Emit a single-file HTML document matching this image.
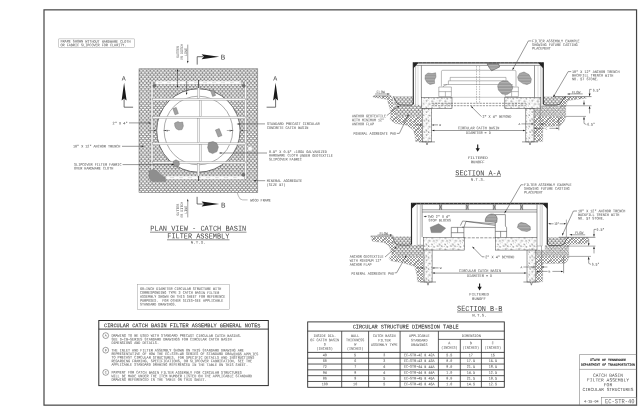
<!DOCTYPE html>
<html><head><meta charset="utf-8"><title>EC-STR-40 Catch Basin Filter Assembly for Circular Structures</title>
<style>
html,body{margin:0;padding:0;background:#fff;width:640px;height:414px;overflow:hidden}
svg{display:block;will-change:transform;transform:translateZ(0)}
text{white-space:pre;text-rendering:geometricPrecision}
</style></head><body>
<svg width="640" height="414" viewBox="0 0 640 414">
<rect x="0" y="0" width="640" height="414" fill="#fff"/>
<defs>
<pattern id="grav" width="18.0" height="16.4" patternUnits="userSpaceOnUse"><rect width="18.0" height="16.4" fill="#888888"/><ellipse cx="-2.70" cy="-3.08" rx="1.3" ry="0.86" fill="#fcfcfc"/><ellipse cx="-0.90" cy="-1.03" rx="1.3" ry="0.86" fill="#fcfcfc"/><ellipse cx="0.90" cy="-3.08" rx="1.3" ry="0.86" fill="#fcfcfc"/><ellipse cx="2.70" cy="-1.03" rx="1.3" ry="0.86" fill="#fcfcfc"/><ellipse cx="4.50" cy="-3.08" rx="1.3" ry="0.86" fill="#fcfcfc"/><ellipse cx="6.30" cy="-1.03" rx="1.3" ry="0.86" fill="#fcfcfc"/><ellipse cx="8.10" cy="-3.08" rx="1.3" ry="0.86" fill="#fcfcfc"/><ellipse cx="9.90" cy="-1.03" rx="1.3" ry="0.86" fill="#fcfcfc"/><ellipse cx="11.70" cy="-3.08" rx="1.3" ry="0.86" fill="#fcfcfc"/><ellipse cx="13.50" cy="-1.03" rx="1.3" ry="0.86" fill="#fcfcfc"/><ellipse cx="15.30" cy="-3.08" rx="1.3" ry="0.86" fill="#fcfcfc"/><ellipse cx="17.10" cy="-1.03" rx="1.3" ry="0.86" fill="#fcfcfc"/><ellipse cx="18.90" cy="-3.08" rx="1.3" ry="0.86" fill="#fcfcfc"/><ellipse cx="20.70" cy="-1.03" rx="1.3" ry="0.86" fill="#fcfcfc"/><ellipse cx="-2.70" cy="1.02" rx="1.3" ry="0.86" fill="#fcfcfc"/><ellipse cx="-0.90" cy="3.07" rx="1.3" ry="0.86" fill="#fcfcfc"/><ellipse cx="0.90" cy="1.02" rx="1.3" ry="0.86" fill="#fcfcfc"/><ellipse cx="2.70" cy="3.07" rx="1.3" ry="0.86" fill="#fcfcfc"/><ellipse cx="4.50" cy="1.02" rx="1.3" ry="0.86" fill="#fcfcfc"/><ellipse cx="6.30" cy="3.07" rx="1.3" ry="0.86" fill="#fcfcfc"/><ellipse cx="8.10" cy="1.02" rx="1.3" ry="0.86" fill="#fcfcfc"/><ellipse cx="9.90" cy="3.07" rx="1.3" ry="0.86" fill="#fcfcfc"/><ellipse cx="11.70" cy="1.02" rx="1.3" ry="0.86" fill="#fcfcfc"/><ellipse cx="13.50" cy="3.07" rx="1.3" ry="0.86" fill="#fcfcfc"/><ellipse cx="15.30" cy="1.02" rx="1.3" ry="0.86" fill="#fcfcfc"/><ellipse cx="17.10" cy="3.07" rx="1.3" ry="0.86" fill="#fcfcfc"/><ellipse cx="18.90" cy="1.02" rx="1.3" ry="0.86" fill="#fcfcfc"/><ellipse cx="20.70" cy="3.07" rx="1.3" ry="0.86" fill="#fcfcfc"/><ellipse cx="-2.70" cy="5.12" rx="1.3" ry="0.86" fill="#fcfcfc"/><ellipse cx="-0.90" cy="7.17" rx="1.3" ry="0.86" fill="#fcfcfc"/><ellipse cx="0.90" cy="5.12" rx="1.3" ry="0.86" fill="#fcfcfc"/><ellipse cx="2.70" cy="7.17" rx="1.3" ry="0.86" fill="#fcfcfc"/><ellipse cx="4.50" cy="5.12" rx="1.3" ry="0.86" fill="#fcfcfc"/><ellipse cx="6.30" cy="7.17" rx="1.3" ry="0.86" fill="#fcfcfc"/><ellipse cx="8.10" cy="5.12" rx="1.3" ry="0.86" fill="#fcfcfc"/><ellipse cx="9.90" cy="7.17" rx="1.3" ry="0.86" fill="#fcfcfc"/><ellipse cx="11.70" cy="5.12" rx="1.3" ry="0.86" fill="#fcfcfc"/><ellipse cx="13.50" cy="7.17" rx="1.3" ry="0.86" fill="#fcfcfc"/><ellipse cx="15.30" cy="5.12" rx="1.3" ry="0.86" fill="#fcfcfc"/><ellipse cx="17.10" cy="7.17" rx="1.3" ry="0.86" fill="#fcfcfc"/><ellipse cx="18.90" cy="5.12" rx="1.3" ry="0.86" fill="#fcfcfc"/><ellipse cx="20.70" cy="7.17" rx="1.3" ry="0.86" fill="#fcfcfc"/><ellipse cx="-2.70" cy="9.22" rx="1.3" ry="0.86" fill="#fcfcfc"/><ellipse cx="-0.90" cy="11.27" rx="1.3" ry="0.86" fill="#fcfcfc"/><ellipse cx="0.90" cy="9.22" rx="1.3" ry="0.86" fill="#fcfcfc"/><ellipse cx="2.70" cy="11.27" rx="1.3" ry="0.86" fill="#fcfcfc"/><ellipse cx="4.50" cy="9.22" rx="1.3" ry="0.86" fill="#fcfcfc"/><ellipse cx="6.30" cy="11.27" rx="1.3" ry="0.86" fill="#fcfcfc"/><ellipse cx="8.10" cy="9.22" rx="1.3" ry="0.86" fill="#fcfcfc"/><ellipse cx="9.90" cy="11.27" rx="1.3" ry="0.86" fill="#fcfcfc"/><ellipse cx="11.70" cy="9.22" rx="1.3" ry="0.86" fill="#fcfcfc"/><ellipse cx="13.50" cy="11.27" rx="1.3" ry="0.86" fill="#fcfcfc"/><ellipse cx="15.30" cy="9.22" rx="1.3" ry="0.86" fill="#fcfcfc"/><ellipse cx="17.10" cy="11.27" rx="1.3" ry="0.86" fill="#fcfcfc"/><ellipse cx="18.90" cy="9.22" rx="1.3" ry="0.86" fill="#fcfcfc"/><ellipse cx="20.70" cy="11.27" rx="1.3" ry="0.86" fill="#fcfcfc"/><ellipse cx="-2.70" cy="13.32" rx="1.3" ry="0.86" fill="#fcfcfc"/><ellipse cx="-0.90" cy="15.37" rx="1.3" ry="0.86" fill="#fcfcfc"/><ellipse cx="0.90" cy="13.32" rx="1.3" ry="0.86" fill="#fcfcfc"/><ellipse cx="2.70" cy="15.37" rx="1.3" ry="0.86" fill="#fcfcfc"/><ellipse cx="4.50" cy="13.32" rx="1.3" ry="0.86" fill="#fcfcfc"/><ellipse cx="6.30" cy="15.37" rx="1.3" ry="0.86" fill="#fcfcfc"/><ellipse cx="8.10" cy="13.32" rx="1.3" ry="0.86" fill="#fcfcfc"/><ellipse cx="9.90" cy="15.37" rx="1.3" ry="0.86" fill="#fcfcfc"/><ellipse cx="11.70" cy="13.32" rx="1.3" ry="0.86" fill="#fcfcfc"/><ellipse cx="13.50" cy="15.37" rx="1.3" ry="0.86" fill="#fcfcfc"/><ellipse cx="15.30" cy="13.32" rx="1.3" ry="0.86" fill="#fcfcfc"/><ellipse cx="17.10" cy="15.37" rx="1.3" ry="0.86" fill="#fcfcfc"/><ellipse cx="18.90" cy="13.32" rx="1.3" ry="0.86" fill="#fcfcfc"/><ellipse cx="20.70" cy="15.37" rx="1.3" ry="0.86" fill="#fcfcfc"/><ellipse cx="-2.70" cy="17.42" rx="1.3" ry="0.86" fill="#fcfcfc"/><ellipse cx="-0.90" cy="19.47" rx="1.3" ry="0.86" fill="#fcfcfc"/><ellipse cx="0.90" cy="17.42" rx="1.3" ry="0.86" fill="#fcfcfc"/><ellipse cx="2.70" cy="19.47" rx="1.3" ry="0.86" fill="#fcfcfc"/><ellipse cx="4.50" cy="17.42" rx="1.3" ry="0.86" fill="#fcfcfc"/><ellipse cx="6.30" cy="19.47" rx="1.3" ry="0.86" fill="#fcfcfc"/><ellipse cx="8.10" cy="17.42" rx="1.3" ry="0.86" fill="#fcfcfc"/><ellipse cx="9.90" cy="19.47" rx="1.3" ry="0.86" fill="#fcfcfc"/><ellipse cx="11.70" cy="17.42" rx="1.3" ry="0.86" fill="#fcfcfc"/><ellipse cx="13.50" cy="19.47" rx="1.3" ry="0.86" fill="#fcfcfc"/><ellipse cx="15.30" cy="17.42" rx="1.3" ry="0.86" fill="#fcfcfc"/><ellipse cx="17.10" cy="19.47" rx="1.3" ry="0.86" fill="#fcfcfc"/><ellipse cx="18.90" cy="17.42" rx="1.3" ry="0.86" fill="#fcfcfc"/><ellipse cx="20.70" cy="19.47" rx="1.3" ry="0.86" fill="#fcfcfc"/></pattern>
<pattern id="grav2" width="18.0" height="16.4" patternUnits="userSpaceOnUse"><rect width="18.0" height="16.4" fill="#8c8c8c"/><ellipse cx="-2.70" cy="-3.08" rx="1.3" ry="0.86" fill="#fcfcfc"/><ellipse cx="-0.90" cy="-1.03" rx="1.3" ry="0.86" fill="#fcfcfc"/><ellipse cx="0.90" cy="-3.08" rx="1.3" ry="0.86" fill="#fcfcfc"/><ellipse cx="2.70" cy="-1.03" rx="1.3" ry="0.86" fill="#fcfcfc"/><ellipse cx="4.50" cy="-3.08" rx="1.3" ry="0.86" fill="#fcfcfc"/><ellipse cx="6.30" cy="-1.03" rx="1.3" ry="0.86" fill="#fcfcfc"/><ellipse cx="8.10" cy="-3.08" rx="1.3" ry="0.86" fill="#fcfcfc"/><ellipse cx="9.90" cy="-1.03" rx="1.3" ry="0.86" fill="#fcfcfc"/><ellipse cx="11.70" cy="-3.08" rx="1.3" ry="0.86" fill="#fcfcfc"/><ellipse cx="13.50" cy="-1.03" rx="1.3" ry="0.86" fill="#fcfcfc"/><ellipse cx="15.30" cy="-3.08" rx="1.3" ry="0.86" fill="#fcfcfc"/><ellipse cx="17.10" cy="-1.03" rx="1.3" ry="0.86" fill="#fcfcfc"/><ellipse cx="18.90" cy="-3.08" rx="1.3" ry="0.86" fill="#fcfcfc"/><ellipse cx="20.70" cy="-1.03" rx="1.3" ry="0.86" fill="#fcfcfc"/><ellipse cx="-2.70" cy="1.02" rx="1.3" ry="0.86" fill="#fcfcfc"/><ellipse cx="-0.90" cy="3.07" rx="1.3" ry="0.86" fill="#fcfcfc"/><ellipse cx="0.90" cy="1.02" rx="1.3" ry="0.86" fill="#fcfcfc"/><ellipse cx="2.70" cy="3.07" rx="1.3" ry="0.86" fill="#fcfcfc"/><ellipse cx="4.50" cy="1.02" rx="1.3" ry="0.86" fill="#fcfcfc"/><ellipse cx="6.30" cy="3.07" rx="1.3" ry="0.86" fill="#fcfcfc"/><ellipse cx="8.10" cy="1.02" rx="1.3" ry="0.86" fill="#fcfcfc"/><ellipse cx="9.90" cy="3.07" rx="1.3" ry="0.86" fill="#fcfcfc"/><ellipse cx="11.70" cy="1.02" rx="1.3" ry="0.86" fill="#fcfcfc"/><ellipse cx="13.50" cy="3.07" rx="1.3" ry="0.86" fill="#fcfcfc"/><ellipse cx="15.30" cy="1.02" rx="1.3" ry="0.86" fill="#fcfcfc"/><ellipse cx="17.10" cy="3.07" rx="1.3" ry="0.86" fill="#fcfcfc"/><ellipse cx="18.90" cy="1.02" rx="1.3" ry="0.86" fill="#fcfcfc"/><ellipse cx="20.70" cy="3.07" rx="1.3" ry="0.86" fill="#fcfcfc"/><ellipse cx="-2.70" cy="5.12" rx="1.3" ry="0.86" fill="#fcfcfc"/><ellipse cx="-0.90" cy="7.17" rx="1.3" ry="0.86" fill="#fcfcfc"/><ellipse cx="0.90" cy="5.12" rx="1.3" ry="0.86" fill="#fcfcfc"/><ellipse cx="2.70" cy="7.17" rx="1.3" ry="0.86" fill="#fcfcfc"/><ellipse cx="4.50" cy="5.12" rx="1.3" ry="0.86" fill="#fcfcfc"/><ellipse cx="6.30" cy="7.17" rx="1.3" ry="0.86" fill="#fcfcfc"/><ellipse cx="8.10" cy="5.12" rx="1.3" ry="0.86" fill="#fcfcfc"/><ellipse cx="9.90" cy="7.17" rx="1.3" ry="0.86" fill="#fcfcfc"/><ellipse cx="11.70" cy="5.12" rx="1.3" ry="0.86" fill="#fcfcfc"/><ellipse cx="13.50" cy="7.17" rx="1.3" ry="0.86" fill="#fcfcfc"/><ellipse cx="15.30" cy="5.12" rx="1.3" ry="0.86" fill="#fcfcfc"/><ellipse cx="17.10" cy="7.17" rx="1.3" ry="0.86" fill="#fcfcfc"/><ellipse cx="18.90" cy="5.12" rx="1.3" ry="0.86" fill="#fcfcfc"/><ellipse cx="20.70" cy="7.17" rx="1.3" ry="0.86" fill="#fcfcfc"/><ellipse cx="-2.70" cy="9.22" rx="1.3" ry="0.86" fill="#fcfcfc"/><ellipse cx="-0.90" cy="11.27" rx="1.3" ry="0.86" fill="#fcfcfc"/><ellipse cx="0.90" cy="9.22" rx="1.3" ry="0.86" fill="#fcfcfc"/><ellipse cx="2.70" cy="11.27" rx="1.3" ry="0.86" fill="#fcfcfc"/><ellipse cx="4.50" cy="9.22" rx="1.3" ry="0.86" fill="#fcfcfc"/><ellipse cx="6.30" cy="11.27" rx="1.3" ry="0.86" fill="#fcfcfc"/><ellipse cx="8.10" cy="9.22" rx="1.3" ry="0.86" fill="#fcfcfc"/><ellipse cx="9.90" cy="11.27" rx="1.3" ry="0.86" fill="#fcfcfc"/><ellipse cx="11.70" cy="9.22" rx="1.3" ry="0.86" fill="#fcfcfc"/><ellipse cx="13.50" cy="11.27" rx="1.3" ry="0.86" fill="#fcfcfc"/><ellipse cx="15.30" cy="9.22" rx="1.3" ry="0.86" fill="#fcfcfc"/><ellipse cx="17.10" cy="11.27" rx="1.3" ry="0.86" fill="#fcfcfc"/><ellipse cx="18.90" cy="9.22" rx="1.3" ry="0.86" fill="#fcfcfc"/><ellipse cx="20.70" cy="11.27" rx="1.3" ry="0.86" fill="#fcfcfc"/><ellipse cx="-2.70" cy="13.32" rx="1.3" ry="0.86" fill="#fcfcfc"/><ellipse cx="-0.90" cy="15.37" rx="1.3" ry="0.86" fill="#fcfcfc"/><ellipse cx="0.90" cy="13.32" rx="1.3" ry="0.86" fill="#fcfcfc"/><ellipse cx="2.70" cy="15.37" rx="1.3" ry="0.86" fill="#fcfcfc"/><ellipse cx="4.50" cy="13.32" rx="1.3" ry="0.86" fill="#fcfcfc"/><ellipse cx="6.30" cy="15.37" rx="1.3" ry="0.86" fill="#fcfcfc"/><ellipse cx="8.10" cy="13.32" rx="1.3" ry="0.86" fill="#fcfcfc"/><ellipse cx="9.90" cy="15.37" rx="1.3" ry="0.86" fill="#fcfcfc"/><ellipse cx="11.70" cy="13.32" rx="1.3" ry="0.86" fill="#fcfcfc"/><ellipse cx="13.50" cy="15.37" rx="1.3" ry="0.86" fill="#fcfcfc"/><ellipse cx="15.30" cy="13.32" rx="1.3" ry="0.86" fill="#fcfcfc"/><ellipse cx="17.10" cy="15.37" rx="1.3" ry="0.86" fill="#fcfcfc"/><ellipse cx="18.90" cy="13.32" rx="1.3" ry="0.86" fill="#fcfcfc"/><ellipse cx="20.70" cy="15.37" rx="1.3" ry="0.86" fill="#fcfcfc"/><ellipse cx="-2.70" cy="17.42" rx="1.3" ry="0.86" fill="#fcfcfc"/><ellipse cx="-0.90" cy="19.47" rx="1.3" ry="0.86" fill="#fcfcfc"/><ellipse cx="0.90" cy="17.42" rx="1.3" ry="0.86" fill="#fcfcfc"/><ellipse cx="2.70" cy="19.47" rx="1.3" ry="0.86" fill="#fcfcfc"/><ellipse cx="4.50" cy="17.42" rx="1.3" ry="0.86" fill="#fcfcfc"/><ellipse cx="6.30" cy="19.47" rx="1.3" ry="0.86" fill="#fcfcfc"/><ellipse cx="8.10" cy="17.42" rx="1.3" ry="0.86" fill="#fcfcfc"/><ellipse cx="9.90" cy="19.47" rx="1.3" ry="0.86" fill="#fcfcfc"/><ellipse cx="11.70" cy="17.42" rx="1.3" ry="0.86" fill="#fcfcfc"/><ellipse cx="13.50" cy="19.47" rx="1.3" ry="0.86" fill="#fcfcfc"/><ellipse cx="15.30" cy="17.42" rx="1.3" ry="0.86" fill="#fcfcfc"/><ellipse cx="17.10" cy="19.47" rx="1.3" ry="0.86" fill="#fcfcfc"/><ellipse cx="18.90" cy="17.42" rx="1.3" ry="0.86" fill="#fcfcfc"/><ellipse cx="20.70" cy="19.47" rx="1.3" ry="0.86" fill="#fcfcfc"/></pattern>
<pattern id="soil" width="11.0" height="11.0" patternUnits="userSpaceOnUse"><rect width="11.0" height="11.0" fill="#fff"/><path d="M-11.0,0 L0.0,11.0 M-11.0,11.0 L0.0,0 M-8.25,0 L2.75,11.0 M-8.25,11.0 L2.75,0 M-5.5,0 L5.5,11.0 M-5.5,11.0 L5.5,0 M-2.75,0 L8.25,11.0 M-2.75,11.0 L8.25,0 M0.0,0 L11.0,11.0 M0.0,11.0 L11.0,0 M2.75,0 L13.75,11.0 M2.75,11.0 L13.75,0 M5.5,0 L16.5,11.0 M5.5,11.0 L16.5,0 M8.25,0 L19.25,11.0 M8.25,11.0 L19.25,0 M11.0,0 L22.0,11.0 M11.0,11.0 L22.0,0 M13.75,0 L24.75,11.0 M13.75,11.0 L24.75,0 M16.5,0 L27.5,11.0 M16.5,11.0 L27.5,0 M19.25,0 L30.25,11.0 M19.25,11.0 L30.25,0 M22.0,0 L33.0,11.0 M22.0,11.0 L33.0,0" stroke="#505050" stroke-width="0.5" shape-rendering="crispEdges"/></pattern>
<pattern id="conc" width="13.2" height="11.4" patternUnits="userSpaceOnUse"><rect width="13.2" height="11.4" fill="#fff"/><path d="M0.72,0.61 l1.1,0.35 l-0.65,0.9 z" fill="#e4e4e4" stroke="#505050" stroke-width="0.38"/><circle cx="2.12" cy="1.91" r="0.22" fill="#777"/><circle cx="3.79" cy="0.50" r="0.36" fill="#505050"/><circle cx="5.19" cy="1.80" r="0.22" fill="#777"/><path d="M6.28,0.91 l1.1,0.35 l-0.65,0.9 z" fill="#e4e4e4" stroke="#505050" stroke-width="0.38"/><circle cx="7.68" cy="2.21" r="0.22" fill="#777"/><circle cx="8.30" cy="1.11" r="0.36" fill="#505050"/><circle cx="9.70" cy="2.41" r="0.22" fill="#777"/><path d="M10.91,1.01 l1.1,0.35 l-0.65,0.9 z" fill="#e4e4e4" stroke="#505050" stroke-width="0.38"/><circle cx="12.31" cy="2.31" r="0.22" fill="#777"/><circle cx="0.39" cy="3.38" r="0.36" fill="#505050"/><circle cx="1.79" cy="4.68" r="0.22" fill="#777"/><path d="M3.49,4.41 l1.1,0.35 l-0.65,0.9 z" fill="#e4e4e4" stroke="#505050" stroke-width="0.38"/><circle cx="4.89" cy="5.71" r="0.22" fill="#777"/><circle cx="5.74" cy="3.56" r="0.36" fill="#505050"/><circle cx="7.14" cy="4.86" r="0.22" fill="#777"/><path d="M9.04,4.58 l1.1,0.35 l-0.65,0.9 z" fill="#e4e4e4" stroke="#505050" stroke-width="0.38"/><circle cx="10.44" cy="5.88" r="0.22" fill="#777"/><circle cx="11.61" cy="3.81" r="0.36" fill="#505050"/><circle cx="13.01" cy="5.11" r="0.22" fill="#777"/><path d="M1.57,6.17 l1.1,0.35 l-0.65,0.9 z" fill="#e4e4e4" stroke="#505050" stroke-width="0.38"/><circle cx="2.97" cy="7.47" r="0.22" fill="#777"/><circle cx="4.06" cy="6.51" r="0.36" fill="#505050"/><circle cx="5.46" cy="7.81" r="0.22" fill="#777"/><path d="M5.77,6.26 l1.1,0.35 l-0.65,0.9 z" fill="#e4e4e4" stroke="#505050" stroke-width="0.38"/><circle cx="7.17" cy="7.56" r="0.22" fill="#777"/><circle cx="8.62" cy="7.24" r="0.36" fill="#505050"/><circle cx="10.02" cy="8.54" r="0.22" fill="#777"/><path d="M11.09,6.91 l1.1,0.35 l-0.65,0.9 z" fill="#e4e4e4" stroke="#505050" stroke-width="0.38"/><circle cx="12.49" cy="8.21" r="0.22" fill="#777"/><circle cx="1.13" cy="9.47" r="0.36" fill="#505050"/><circle cx="2.53" cy="10.77" r="0.22" fill="#777"/><path d="M3.65,9.04 l1.1,0.35 l-0.65,0.9 z" fill="#e4e4e4" stroke="#505050" stroke-width="0.38"/><circle cx="5.05" cy="10.34" r="0.22" fill="#777"/><circle cx="5.66" cy="9.24" r="0.36" fill="#505050"/><circle cx="7.06" cy="10.54" r="0.22" fill="#777"/><path d="M9.10,9.55 l1.1,0.35 l-0.65,0.9 z" fill="#e4e4e4" stroke="#505050" stroke-width="0.38"/><circle cx="10.50" cy="10.85" r="0.22" fill="#777"/><circle cx="11.27" cy="9.77" r="0.36" fill="#505050"/><circle cx="12.67" cy="11.07" r="0.22" fill="#777"/></pattern>
<pattern id="blob" width="8.7" height="8.7" patternUnits="userSpaceOnUse"><rect width="8.7" height="8.7" fill="#d6d6d6"/><path d="M0,0.70 H8.7 M0,2.15 H8.7 M0,3.60 H8.7 M0,5.05 H8.7 M0,6.50 H8.7 M0,7.95 H8.7" stroke="#4a4a4a" stroke-width="0.55"/></pattern>
</defs>
<rect x="44" y="9.85" width="592.55" height="395.3" fill="none" stroke="#444" stroke-width="1.2" />
<rect x="58.8" y="38.9" width="75.4" height="8.8" fill="none" stroke="#888" stroke-width="0.4" />
<text x="60.5" y="42.6" transform="rotate(0.06 60.5 42.6)" style="font-family:'Liberation Mono',sans-serif" font-size="3.9" fill="#5e5e5e" text-anchor="start" font-weight="normal" textLength="70" lengthAdjust="spacingAndGlyphs"  stroke="#5e5e5e" stroke-width="0.05">FRAME SHOWN WITHOUT HARDWARE CLOTH</text>
<text x="60.5" y="46.2" transform="rotate(0.06 60.5 46.2)" style="font-family:'Liberation Mono',sans-serif" font-size="3.9" fill="#5e5e5e" text-anchor="start" font-weight="normal" textLength="66" lengthAdjust="spacingAndGlyphs"  stroke="#5e5e5e" stroke-width="0.05">OR FABRIC SLIPCOVER FOR CLARITY.</text>
<text x="198.3" y="230.8" transform="rotate(0.06 198.3 230.8)" style="font-family:'Liberation Mono',sans-serif" font-size="7.6" fill="#444" text-anchor="middle" font-weight="normal" textLength="96" lengthAdjust="spacingAndGlyphs" >PLAN VIEW - CATCH BASIN</text>
<line x1="150" y1="232.2" x2="246.5" y2="232.2" stroke="#444" stroke-width="0.6" />
<text x="198.3" y="238.4" transform="rotate(0.06 198.3 238.4)" style="font-family:'Liberation Mono',sans-serif" font-size="7.6" fill="#444" text-anchor="middle" font-weight="normal" textLength="62" lengthAdjust="spacingAndGlyphs" >FILTER ASSEMBLY</text>
<line x1="167" y1="239.8" x2="229.5" y2="239.8" stroke="#444" stroke-width="0.6" />
<text x="198.3" y="243.4" transform="rotate(0.06 198.3 243.4)" style="font-family:'Liberation Mono',sans-serif" font-size="3.4" fill="#5e5e5e" text-anchor="middle" font-weight="normal" textLength="15" lengthAdjust="spacingAndGlyphs"  stroke="#5e5e5e" stroke-width="0.05">N.T.S.</text>
<rect x="137.2" y="284.5" width="92.1" height="24.8" fill="none" stroke="#888" stroke-width="0.4" />
<text x="140" y="289.9" transform="rotate(0.06 140 289.9)" style="font-family:'Liberation Mono',sans-serif" font-size="3.9" fill="#5e5e5e" text-anchor="start" font-weight="normal" textLength="81.19999999999999" lengthAdjust="spacingAndGlyphs"  stroke="#5e5e5e" stroke-width="0.05">60-INCH DIAMETER CIRCULAR STRUCTURE WITH</text>
<text x="140" y="293.82" transform="rotate(0.06 140 293.82)" style="font-family:'Liberation Mono',sans-serif" font-size="3.9" fill="#5e5e5e" text-anchor="start" font-weight="normal" textLength="79.16999999999999" lengthAdjust="spacingAndGlyphs"  stroke="#5e5e5e" stroke-width="0.05">CORRESPONDING TYPE 3 CATCH BASIN FILTER</text>
<text x="140" y="297.73999999999995" transform="rotate(0.06 140 297.73999999999995)" style="font-family:'Liberation Mono',sans-serif" font-size="3.9" fill="#5e5e5e" text-anchor="start" font-weight="normal" textLength="85.25999999999999" lengthAdjust="spacingAndGlyphs"  stroke="#5e5e5e" stroke-width="0.05">ASSEMBLY SHOWN ON THIS SHEET FOR REFERENCE</text>
<text x="140" y="301.65999999999997" transform="rotate(0.06 140 301.65999999999997)" style="font-family:'Liberation Mono',sans-serif" font-size="3.9" fill="#5e5e5e" text-anchor="start" font-weight="normal" textLength="83.22999999999999" lengthAdjust="spacingAndGlyphs"  stroke="#5e5e5e" stroke-width="0.05">PURPOSES.  FOR OTHER SIZES-SEE APPLICABLE</text>
<text x="140" y="305.58" transform="rotate(0.06 140 305.58)" style="font-family:'Liberation Mono',sans-serif" font-size="3.9" fill="#5e5e5e" text-anchor="start" font-weight="normal" textLength="36.54" lengthAdjust="spacingAndGlyphs"  stroke="#5e5e5e" stroke-width="0.05">STANDARD DRAWINGS.</text>
<rect x="98.8" y="320.5" width="169.5" height="65.1" fill="none" stroke="#2c2c2c" stroke-width="1.0" />
<line x1="98.8" y1="329.1" x2="268.3" y2="329.1" stroke="#2c2c2c" stroke-width="0.9" />
<text x="182.3" y="327.3" transform="rotate(0.06 182.3 327.3)" style="font-family:'Liberation Mono',sans-serif" font-size="5.6" fill="#3a3a3a" text-anchor="middle" font-weight="normal" textLength="156.4" lengthAdjust="spacingAndGlyphs"  stroke="#3a3a3a" stroke-width="0.12">CIRCULAR CATCH BASIN FILTER ASSEMBLY GENERAL NOTES</text>
<circle cx="105.7" cy="335.6" r="2.9" fill="none" stroke="#444" stroke-width="0.5"/>
<text x="105.7" y="336.6" transform="rotate(0.06 105.7 336.6)" style="font-family:'Liberation Mono',sans-serif" font-size="3.2" fill="#5e5e5e" text-anchor="middle" font-weight="normal"  stroke="#5e5e5e" stroke-width="0.05">A</text>
<text x="111.4" y="336.8" transform="rotate(0.06 111.4 336.8)" style="font-family:'Liberation Mono',sans-serif" font-size="3.9" fill="#5e5e5e" text-anchor="start" font-weight="normal" textLength="130.41" lengthAdjust="spacingAndGlyphs"  stroke="#5e5e5e" stroke-width="0.05">DRAWING TO BE USED WITH STANDARD PRECAST CIRCULAR CATCH BASINS.</text>
<text x="111.4" y="340.40000000000003" transform="rotate(0.06 111.4 340.40000000000003)" style="font-family:'Liberation Mono',sans-serif" font-size="3.9" fill="#5e5e5e" text-anchor="start" font-weight="normal" textLength="120.05999999999999" lengthAdjust="spacingAndGlyphs"  stroke="#5e5e5e" stroke-width="0.05">SEE D-CB-SERIES STANDARD DRAWINGS FOR CIRCULAR CATCH BASIN</text>
<text x="111.4" y="344.0" transform="rotate(0.06 111.4 344.0)" style="font-family:'Liberation Mono',sans-serif" font-size="3.9" fill="#5e5e5e" text-anchor="start" font-weight="normal" textLength="47.61" lengthAdjust="spacingAndGlyphs"  stroke="#5e5e5e" stroke-width="0.05">DIMENSIONS AND DETAILS.</text>
<circle cx="105.7" cy="350.2" r="2.9" fill="none" stroke="#444" stroke-width="0.5"/>
<text x="105.7" y="351.2" transform="rotate(0.06 105.7 351.2)" style="font-family:'Liberation Mono',sans-serif" font-size="3.2" fill="#5e5e5e" text-anchor="middle" font-weight="normal"  stroke="#5e5e5e" stroke-width="0.05">B</text>
<text x="111.4" y="351.4" transform="rotate(0.06 111.4 351.4)" style="font-family:'Liberation Mono',sans-serif" font-size="3.9" fill="#5e5e5e" text-anchor="start" font-weight="normal" textLength="132.48" lengthAdjust="spacingAndGlyphs"  stroke="#5e5e5e" stroke-width="0.05">THE INLET AND FILTER ASSEMBLY SHOWN ON THIS STANDARD DRAWING ARE</text>
<text x="111.4" y="355.0" transform="rotate(0.06 111.4 355.0)" style="font-family:'Liberation Mono',sans-serif" font-size="3.9" fill="#5e5e5e" text-anchor="start" font-weight="normal" textLength="146.97" lengthAdjust="spacingAndGlyphs"  stroke="#5e5e5e" stroke-width="0.05">REPRESENTATIVE OF HOW THE EC-STR-40 SERIES OF STANDARD DRAWINGS APPLIES</text>
<text x="111.4" y="358.59999999999997" transform="rotate(0.06 111.4 358.59999999999997)" style="font-family:'Liberation Mono',sans-serif" font-size="3.9" fill="#5e5e5e" text-anchor="start" font-weight="normal" textLength="142.82999999999998" lengthAdjust="spacingAndGlyphs"  stroke="#5e5e5e" stroke-width="0.05">TO PRECAST CIRCULAR STRUCTURES. FOR SPECIFIC DETAILS AND INSTRUCTIONS</text>
<text x="111.4" y="362.2" transform="rotate(0.06 111.4 362.2)" style="font-family:'Liberation Mono',sans-serif" font-size="3.9" fill="#5e5e5e" text-anchor="start" font-weight="normal" textLength="140.76" lengthAdjust="spacingAndGlyphs"  stroke="#5e5e5e" stroke-width="0.05">REGARDING FRAMING, SPECIFICATIONS, OR SLIPCOVER FABRICATION, SEE THE</text>
<text x="111.4" y="365.79999999999995" transform="rotate(0.06 111.4 365.79999999999995)" style="font-family:'Liberation Mono',sans-serif" font-size="3.9" fill="#5e5e5e" text-anchor="start" font-weight="normal" textLength="136.61999999999998" lengthAdjust="spacingAndGlyphs"  stroke="#5e5e5e" stroke-width="0.05">APPLICABLE STANDARD DRAWING REFERENCED IN THE TABLE ON THIS SHEET.</text>
<circle cx="105.7" cy="372.40000000000003" r="2.9" fill="none" stroke="#444" stroke-width="0.5"/>
<text x="105.7" y="373.40000000000003" transform="rotate(0.06 105.7 373.40000000000003)" style="font-family:'Liberation Mono',sans-serif" font-size="3.2" fill="#5e5e5e" text-anchor="middle" font-weight="normal"  stroke="#5e5e5e" stroke-width="0.05">C</text>
<text x="111.4" y="373.6" transform="rotate(0.06 111.4 373.6)" style="font-family:'Liberation Mono',sans-serif" font-size="3.9" fill="#5e5e5e" text-anchor="start" font-weight="normal" textLength="130.41" lengthAdjust="spacingAndGlyphs"  stroke="#5e5e5e" stroke-width="0.05">PAYMENT FOR CATCH BASIN FILTER ASSEMBLY FOR CIRCULAR STRUCTURES</text>
<text x="111.4" y="377.20000000000005" transform="rotate(0.06 111.4 377.20000000000005)" style="font-family:'Liberation Mono',sans-serif" font-size="3.9" fill="#5e5e5e" text-anchor="start" font-weight="normal" textLength="140.76" lengthAdjust="spacingAndGlyphs"  stroke="#5e5e5e" stroke-width="0.05">WILL BE MADE UNDER THE ITEM NUMBER LISTED ON THE APPLICABLE STANDARD</text>
<text x="111.4" y="380.8" transform="rotate(0.06 111.4 380.8)" style="font-family:'Liberation Mono',sans-serif" font-size="3.9" fill="#5e5e5e" text-anchor="start" font-weight="normal" textLength="95.22" lengthAdjust="spacingAndGlyphs"  stroke="#5e5e5e" stroke-width="0.05">DRAWING REFERENCED IN THE TABLE ON THIS SHEET.</text>
<rect x="307.7" y="321.9" width="196.6" height="65.4" fill="none" stroke="#2c2c2c" stroke-width="0.9" />
<line x1="307.7" y1="331.1" x2="504.3" y2="331.1" stroke="#2c2c2c" stroke-width="0.8" />
<text x="405.7" y="328.5" transform="rotate(0.06 405.7 328.5)" style="font-family:'Liberation Mono',sans-serif" font-size="5.6" fill="#3a3a3a" text-anchor="middle" font-weight="normal" textLength="106" lengthAdjust="spacingAndGlyphs"  stroke="#3a3a3a" stroke-width="0.12">CIRCULAR STRUCTURE DIMENSION TABLE</text>
<line x1="341.7" y1="331.1" x2="341.7" y2="387.3" stroke="#2c2c2c" stroke-width="0.75" />
<line x1="368.6" y1="331.1" x2="368.6" y2="387.3" stroke="#2c2c2c" stroke-width="0.75" />
<line x1="400.1" y1="331.1" x2="400.1" y2="387.3" stroke="#2c2c2c" stroke-width="0.75" />
<line x1="438.4" y1="331.1" x2="438.4" y2="387.3" stroke="#2c2c2c" stroke-width="0.75" />
<line x1="460.3" y1="339.4" x2="460.3" y2="387.3" stroke="#2c2c2c" stroke-width="0.75" />
<line x1="481.4" y1="339.4" x2="481.4" y2="387.3" stroke="#2c2c2c" stroke-width="0.75" />
<line x1="438.4" y1="339.4" x2="504.3" y2="339.4" stroke="#2c2c2c" stroke-width="0.7" />
<line x1="307.7" y1="352.4" x2="504.3" y2="352.4" stroke="#2c2c2c" stroke-width="0.85" />
<line x1="307.7" y1="358.21666666666664" x2="504.3" y2="358.21666666666664" stroke="#2c2c2c" stroke-width="0.8" />
<line x1="307.7" y1="364.0333333333333" x2="504.3" y2="364.0333333333333" stroke="#2c2c2c" stroke-width="0.8" />
<line x1="307.7" y1="369.85" x2="504.3" y2="369.85" stroke="#2c2c2c" stroke-width="0.8" />
<line x1="307.7" y1="375.6666666666667" x2="504.3" y2="375.6666666666667" stroke="#2c2c2c" stroke-width="0.8" />
<line x1="307.7" y1="381.48333333333335" x2="504.3" y2="381.48333333333335" stroke="#2c2c2c" stroke-width="0.8" />
<text x="324.7" y="337.1" transform="rotate(0.06 324.7 337.1)" style="font-family:'Liberation Mono',sans-serif" font-size="3.9" fill="#5e5e5e" text-anchor="middle" font-weight="normal" textLength="22.549999999999997" lengthAdjust="spacingAndGlyphs"  stroke="#5e5e5e" stroke-width="0.05">INSIDE DIA.</text>
<text x="324.7" y="341.35" transform="rotate(0.06 324.7 341.35)" style="font-family:'Liberation Mono',sans-serif" font-size="3.9" fill="#5e5e5e" text-anchor="middle" font-weight="normal" textLength="28.699999999999996" lengthAdjust="spacingAndGlyphs"  stroke="#5e5e5e" stroke-width="0.05">OF CATCH BASIN</text>
<text x="324.7" y="345.6" transform="rotate(0.06 324.7 345.6)" style="font-family:'Liberation Mono',sans-serif" font-size="3.9" fill="#5e5e5e" text-anchor="middle" font-weight="normal" textLength="2.05" lengthAdjust="spacingAndGlyphs"  stroke="#5e5e5e" stroke-width="0.05">D</text>
<text x="324.7" y="349.85" transform="rotate(0.06 324.7 349.85)" style="font-family:'Liberation Mono',sans-serif" font-size="3.9" fill="#5e5e5e" text-anchor="middle" font-weight="normal" textLength="16.4" lengthAdjust="spacingAndGlyphs"  stroke="#5e5e5e" stroke-width="0.05">(INCHES)</text>
<text x="355.15" y="337.1" transform="rotate(0.06 355.15 337.1)" style="font-family:'Liberation Mono',sans-serif" font-size="3.9" fill="#5e5e5e" text-anchor="middle" font-weight="normal" textLength="8.2" lengthAdjust="spacingAndGlyphs"  stroke="#5e5e5e" stroke-width="0.05">WALL</text>
<text x="355.15" y="341.35" transform="rotate(0.06 355.15 341.35)" style="font-family:'Liberation Mono',sans-serif" font-size="3.9" fill="#5e5e5e" text-anchor="middle" font-weight="normal" textLength="18.45" lengthAdjust="spacingAndGlyphs"  stroke="#5e5e5e" stroke-width="0.05">THICKNESS</text>
<text x="355.15" y="345.6" transform="rotate(0.06 355.15 345.6)" style="font-family:'Liberation Mono',sans-serif" font-size="3.9" fill="#5e5e5e" text-anchor="middle" font-weight="normal" textLength="2.05" lengthAdjust="spacingAndGlyphs"  stroke="#5e5e5e" stroke-width="0.05">W</text>
<text x="355.15" y="349.85" transform="rotate(0.06 355.15 349.85)" style="font-family:'Liberation Mono',sans-serif" font-size="3.9" fill="#5e5e5e" text-anchor="middle" font-weight="normal" textLength="16.4" lengthAdjust="spacingAndGlyphs"  stroke="#5e5e5e" stroke-width="0.05">(INCHES)</text>
<text x="384.35" y="337.0" transform="rotate(0.06 384.35 337.0)" style="font-family:'Liberation Mono',sans-serif" font-size="3.9" fill="#5e5e5e" text-anchor="middle" font-weight="normal" textLength="22.549999999999997" lengthAdjust="spacingAndGlyphs"  stroke="#5e5e5e" stroke-width="0.05">CATCH BASIN</text>
<text x="384.35" y="341.5" transform="rotate(0.06 384.35 341.5)" style="font-family:'Liberation Mono',sans-serif" font-size="3.9" fill="#5e5e5e" text-anchor="middle" font-weight="normal" textLength="12.299999999999999" lengthAdjust="spacingAndGlyphs"  stroke="#5e5e5e" stroke-width="0.05">FILTER</text>
<text x="384.35" y="346.0" transform="rotate(0.06 384.35 346.0)" style="font-family:'Liberation Mono',sans-serif" font-size="3.9" fill="#5e5e5e" text-anchor="middle" font-weight="normal" textLength="26.65" lengthAdjust="spacingAndGlyphs"  stroke="#5e5e5e" stroke-width="0.05">ASSEMBLY TYPE</text>
<text x="419.25" y="337.0" transform="rotate(0.06 419.25 337.0)" style="font-family:'Liberation Mono',sans-serif" font-size="3.9" fill="#5e5e5e" text-anchor="middle" font-weight="normal" textLength="20.5" lengthAdjust="spacingAndGlyphs"  stroke="#5e5e5e" stroke-width="0.05">APPLICABLE</text>
<text x="419.25" y="341.5" transform="rotate(0.06 419.25 341.5)" style="font-family:'Liberation Mono',sans-serif" font-size="3.9" fill="#5e5e5e" text-anchor="middle" font-weight="normal" textLength="16.4" lengthAdjust="spacingAndGlyphs"  stroke="#5e5e5e" stroke-width="0.05">STANDARD</text>
<text x="419.25" y="346.0" transform="rotate(0.06 419.25 346.0)" style="font-family:'Liberation Mono',sans-serif" font-size="3.9" fill="#5e5e5e" text-anchor="middle" font-weight="normal" textLength="16.4" lengthAdjust="spacingAndGlyphs"  stroke="#5e5e5e" stroke-width="0.05">DRAWINGS</text>
<text x="471.35" y="337" transform="rotate(0.06 471.35 337)" style="font-family:'Liberation Mono',sans-serif" font-size="3.9" fill="#5e5e5e" text-anchor="middle" font-weight="normal" textLength="19" lengthAdjust="spacingAndGlyphs"  stroke="#5e5e5e" stroke-width="0.05">DIMENSION</text>
<text x="449.35" y="344.3" transform="rotate(0.06 449.35 344.3)" style="font-family:'Liberation Mono',sans-serif" font-size="3.9" fill="#5e5e5e" text-anchor="middle" font-weight="normal" textLength="2.05" lengthAdjust="spacingAndGlyphs"  stroke="#5e5e5e" stroke-width="0.05">A</text>
<text x="449.35" y="348.7" transform="rotate(0.06 449.35 348.7)" style="font-family:'Liberation Mono',sans-serif" font-size="3.9" fill="#5e5e5e" text-anchor="middle" font-weight="normal" textLength="16.4" lengthAdjust="spacingAndGlyphs"  stroke="#5e5e5e" stroke-width="0.05">(INCHES)</text>
<text x="470.85" y="344.3" transform="rotate(0.06 470.85 344.3)" style="font-family:'Liberation Mono',sans-serif" font-size="3.9" fill="#5e5e5e" text-anchor="middle" font-weight="normal" textLength="2.05" lengthAdjust="spacingAndGlyphs"  stroke="#5e5e5e" stroke-width="0.05">B</text>
<text x="470.85" y="348.7" transform="rotate(0.06 470.85 348.7)" style="font-family:'Liberation Mono',sans-serif" font-size="3.9" fill="#5e5e5e" text-anchor="middle" font-weight="normal" textLength="16.4" lengthAdjust="spacingAndGlyphs"  stroke="#5e5e5e" stroke-width="0.05">(INCHES)</text>
<text x="492.85" y="344.3" transform="rotate(0.06 492.85 344.3)" style="font-family:'Liberation Mono',sans-serif" font-size="3.9" fill="#5e5e5e" text-anchor="middle" font-weight="normal" textLength="2.05" lengthAdjust="spacingAndGlyphs"  stroke="#5e5e5e" stroke-width="0.05">C</text>
<text x="492.85" y="348.7" transform="rotate(0.06 492.85 348.7)" style="font-family:'Liberation Mono',sans-serif" font-size="3.9" fill="#5e5e5e" text-anchor="middle" font-weight="normal" textLength="16.4" lengthAdjust="spacingAndGlyphs"  stroke="#5e5e5e" stroke-width="0.05">(INCHES)</text>
<text x="324.7" y="356.25" transform="rotate(0.06 324.7 356.25)" style="font-family:'Liberation Mono',sans-serif" font-size="3.9" fill="#5e5e5e" text-anchor="middle" font-weight="normal" textLength="4.1" lengthAdjust="spacingAndGlyphs"  stroke="#5e5e5e" stroke-width="0.05">48</text>
<text x="355.15" y="356.25" transform="rotate(0.06 355.15 356.25)" style="font-family:'Liberation Mono',sans-serif" font-size="3.9" fill="#5e5e5e" text-anchor="middle" font-weight="normal" textLength="2.05" lengthAdjust="spacingAndGlyphs"  stroke="#5e5e5e" stroke-width="0.05">5</text>
<text x="384.35" y="356.25" transform="rotate(0.06 384.35 356.25)" style="font-family:'Liberation Mono',sans-serif" font-size="3.9" fill="#5e5e5e" text-anchor="middle" font-weight="normal" textLength="2.05" lengthAdjust="spacingAndGlyphs"  stroke="#5e5e5e" stroke-width="0.05">3</text>
<text x="419.25" y="356.25" transform="rotate(0.06 419.25 356.25)" style="font-family:'Liberation Mono',sans-serif" font-size="3.9" fill="#5e5e5e" text-anchor="middle" font-weight="normal" textLength="30.749999999999996" lengthAdjust="spacingAndGlyphs"  stroke="#5e5e5e" stroke-width="0.05">EC-STR-42 &amp; 42A</text>
<text x="449.35" y="356.25" transform="rotate(0.06 449.35 356.25)" style="font-family:'Liberation Mono',sans-serif" font-size="3.9" fill="#5e5e5e" text-anchor="middle" font-weight="normal" textLength="6.1499999999999995" lengthAdjust="spacingAndGlyphs"  stroke="#5e5e5e" stroke-width="0.05">5.5</text>
<text x="470.85" y="356.25" transform="rotate(0.06 470.85 356.25)" style="font-family:'Liberation Mono',sans-serif" font-size="3.9" fill="#5e5e5e" text-anchor="middle" font-weight="normal" textLength="4.1" lengthAdjust="spacingAndGlyphs"  stroke="#5e5e5e" stroke-width="0.05">17</text>
<text x="492.85" y="356.25" transform="rotate(0.06 492.85 356.25)" style="font-family:'Liberation Mono',sans-serif" font-size="3.9" fill="#5e5e5e" text-anchor="middle" font-weight="normal" textLength="4.1" lengthAdjust="spacingAndGlyphs"  stroke="#5e5e5e" stroke-width="0.05">15</text>
<text x="324.7" y="362.06666666666666" transform="rotate(0.06 324.7 362.06666666666666)" style="font-family:'Liberation Mono',sans-serif" font-size="3.9" fill="#5e5e5e" text-anchor="middle" font-weight="normal" textLength="4.1" lengthAdjust="spacingAndGlyphs"  stroke="#5e5e5e" stroke-width="0.05">60</text>
<text x="355.15" y="362.06666666666666" transform="rotate(0.06 355.15 362.06666666666666)" style="font-family:'Liberation Mono',sans-serif" font-size="3.9" fill="#5e5e5e" text-anchor="middle" font-weight="normal" textLength="2.05" lengthAdjust="spacingAndGlyphs"  stroke="#5e5e5e" stroke-width="0.05">6</text>
<text x="384.35" y="362.06666666666666" transform="rotate(0.06 384.35 362.06666666666666)" style="font-family:'Liberation Mono',sans-serif" font-size="3.9" fill="#5e5e5e" text-anchor="middle" font-weight="normal" textLength="2.05" lengthAdjust="spacingAndGlyphs"  stroke="#5e5e5e" stroke-width="0.05">3</text>
<text x="419.25" y="362.06666666666666" transform="rotate(0.06 419.25 362.06666666666666)" style="font-family:'Liberation Mono',sans-serif" font-size="3.9" fill="#5e5e5e" text-anchor="middle" font-weight="normal" textLength="30.749999999999996" lengthAdjust="spacingAndGlyphs"  stroke="#5e5e5e" stroke-width="0.05">EC-STR-43 &amp; 43A</text>
<text x="449.35" y="362.06666666666666" transform="rotate(0.06 449.35 362.06666666666666)" style="font-family:'Liberation Mono',sans-serif" font-size="3.9" fill="#5e5e5e" text-anchor="middle" font-weight="normal" textLength="6.1499999999999995" lengthAdjust="spacingAndGlyphs"  stroke="#5e5e5e" stroke-width="0.05">8.0</text>
<text x="470.85" y="362.06666666666666" transform="rotate(0.06 470.85 362.06666666666666)" style="font-family:'Liberation Mono',sans-serif" font-size="3.9" fill="#5e5e5e" text-anchor="middle" font-weight="normal" textLength="8.2" lengthAdjust="spacingAndGlyphs"  stroke="#5e5e5e" stroke-width="0.05">17.5</text>
<text x="492.85" y="362.06666666666666" transform="rotate(0.06 492.85 362.06666666666666)" style="font-family:'Liberation Mono',sans-serif" font-size="3.9" fill="#5e5e5e" text-anchor="middle" font-weight="normal" textLength="8.2" lengthAdjust="spacingAndGlyphs"  stroke="#5e5e5e" stroke-width="0.05">15.5</text>
<text x="324.7" y="367.8833333333333" transform="rotate(0.06 324.7 367.8833333333333)" style="font-family:'Liberation Mono',sans-serif" font-size="3.9" fill="#5e5e5e" text-anchor="middle" font-weight="normal" textLength="4.1" lengthAdjust="spacingAndGlyphs"  stroke="#5e5e5e" stroke-width="0.05">72</text>
<text x="355.15" y="367.8833333333333" transform="rotate(0.06 355.15 367.8833333333333)" style="font-family:'Liberation Mono',sans-serif" font-size="3.9" fill="#5e5e5e" text-anchor="middle" font-weight="normal" textLength="2.05" lengthAdjust="spacingAndGlyphs"  stroke="#5e5e5e" stroke-width="0.05">7</text>
<text x="384.35" y="367.8833333333333" transform="rotate(0.06 384.35 367.8833333333333)" style="font-family:'Liberation Mono',sans-serif" font-size="3.9" fill="#5e5e5e" text-anchor="middle" font-weight="normal" textLength="2.05" lengthAdjust="spacingAndGlyphs"  stroke="#5e5e5e" stroke-width="0.05">4</text>
<text x="419.25" y="367.8833333333333" transform="rotate(0.06 419.25 367.8833333333333)" style="font-family:'Liberation Mono',sans-serif" font-size="3.9" fill="#5e5e5e" text-anchor="middle" font-weight="normal" textLength="30.749999999999996" lengthAdjust="spacingAndGlyphs"  stroke="#5e5e5e" stroke-width="0.05">EC-STR-44 &amp; 44A</text>
<text x="449.35" y="367.8833333333333" transform="rotate(0.06 449.35 367.8833333333333)" style="font-family:'Liberation Mono',sans-serif" font-size="3.9" fill="#5e5e5e" text-anchor="middle" font-weight="normal" textLength="6.1499999999999995" lengthAdjust="spacingAndGlyphs"  stroke="#5e5e5e" stroke-width="0.05">8.0</text>
<text x="470.85" y="367.8833333333333" transform="rotate(0.06 470.85 367.8833333333333)" style="font-family:'Liberation Mono',sans-serif" font-size="3.9" fill="#5e5e5e" text-anchor="middle" font-weight="normal" textLength="8.2" lengthAdjust="spacingAndGlyphs"  stroke="#5e5e5e" stroke-width="0.05">21.5</text>
<text x="492.85" y="367.8833333333333" transform="rotate(0.06 492.85 367.8833333333333)" style="font-family:'Liberation Mono',sans-serif" font-size="3.9" fill="#5e5e5e" text-anchor="middle" font-weight="normal" textLength="8.2" lengthAdjust="spacingAndGlyphs"  stroke="#5e5e5e" stroke-width="0.05">19.5</text>
<text x="324.7" y="373.70000000000005" transform="rotate(0.06 324.7 373.70000000000005)" style="font-family:'Liberation Mono',sans-serif" font-size="3.9" fill="#5e5e5e" text-anchor="middle" font-weight="normal" textLength="4.1" lengthAdjust="spacingAndGlyphs"  stroke="#5e5e5e" stroke-width="0.05">84</text>
<text x="355.15" y="373.70000000000005" transform="rotate(0.06 355.15 373.70000000000005)" style="font-family:'Liberation Mono',sans-serif" font-size="3.9" fill="#5e5e5e" text-anchor="middle" font-weight="normal" textLength="2.05" lengthAdjust="spacingAndGlyphs"  stroke="#5e5e5e" stroke-width="0.05">8</text>
<text x="384.35" y="373.70000000000005" transform="rotate(0.06 384.35 373.70000000000005)" style="font-family:'Liberation Mono',sans-serif" font-size="3.9" fill="#5e5e5e" text-anchor="middle" font-weight="normal" textLength="2.05" lengthAdjust="spacingAndGlyphs"  stroke="#5e5e5e" stroke-width="0.05">4</text>
<text x="419.25" y="373.70000000000005" transform="rotate(0.06 419.25 373.70000000000005)" style="font-family:'Liberation Mono',sans-serif" font-size="3.9" fill="#5e5e5e" text-anchor="middle" font-weight="normal" textLength="30.749999999999996" lengthAdjust="spacingAndGlyphs"  stroke="#5e5e5e" stroke-width="0.05">EC-STR-44 &amp; 44A</text>
<text x="449.35" y="373.70000000000005" transform="rotate(0.06 449.35 373.70000000000005)" style="font-family:'Liberation Mono',sans-serif" font-size="3.9" fill="#5e5e5e" text-anchor="middle" font-weight="normal" textLength="6.1499999999999995" lengthAdjust="spacingAndGlyphs"  stroke="#5e5e5e" stroke-width="0.05">1.0</text>
<text x="470.85" y="373.70000000000005" transform="rotate(0.06 470.85 373.70000000000005)" style="font-family:'Liberation Mono',sans-serif" font-size="3.9" fill="#5e5e5e" text-anchor="middle" font-weight="normal" textLength="8.2" lengthAdjust="spacingAndGlyphs"  stroke="#5e5e5e" stroke-width="0.05">14.5</text>
<text x="492.85" y="373.70000000000005" transform="rotate(0.06 492.85 373.70000000000005)" style="font-family:'Liberation Mono',sans-serif" font-size="3.9" fill="#5e5e5e" text-anchor="middle" font-weight="normal" textLength="8.2" lengthAdjust="spacingAndGlyphs"  stroke="#5e5e5e" stroke-width="0.05">12.5</text>
<text x="324.7" y="379.5166666666667" transform="rotate(0.06 324.7 379.5166666666667)" style="font-family:'Liberation Mono',sans-serif" font-size="3.9" fill="#5e5e5e" text-anchor="middle" font-weight="normal" textLength="4.1" lengthAdjust="spacingAndGlyphs"  stroke="#5e5e5e" stroke-width="0.05">96</text>
<text x="355.15" y="379.5166666666667" transform="rotate(0.06 355.15 379.5166666666667)" style="font-family:'Liberation Mono',sans-serif" font-size="3.9" fill="#5e5e5e" text-anchor="middle" font-weight="normal" textLength="2.05" lengthAdjust="spacingAndGlyphs"  stroke="#5e5e5e" stroke-width="0.05">9</text>
<text x="384.35" y="379.5166666666667" transform="rotate(0.06 384.35 379.5166666666667)" style="font-family:'Liberation Mono',sans-serif" font-size="3.9" fill="#5e5e5e" text-anchor="middle" font-weight="normal" textLength="2.05" lengthAdjust="spacingAndGlyphs"  stroke="#5e5e5e" stroke-width="0.05">5</text>
<text x="419.25" y="379.5166666666667" transform="rotate(0.06 419.25 379.5166666666667)" style="font-family:'Liberation Mono',sans-serif" font-size="3.9" fill="#5e5e5e" text-anchor="middle" font-weight="normal" textLength="30.749999999999996" lengthAdjust="spacingAndGlyphs"  stroke="#5e5e5e" stroke-width="0.05">EC-STR-45 &amp; 45A</text>
<text x="449.35" y="379.5166666666667" transform="rotate(0.06 449.35 379.5166666666667)" style="font-family:'Liberation Mono',sans-serif" font-size="3.9" fill="#5e5e5e" text-anchor="middle" font-weight="normal" textLength="6.1499999999999995" lengthAdjust="spacingAndGlyphs"  stroke="#5e5e5e" stroke-width="0.05">8.0</text>
<text x="470.85" y="379.5166666666667" transform="rotate(0.06 470.85 379.5166666666667)" style="font-family:'Liberation Mono',sans-serif" font-size="3.9" fill="#5e5e5e" text-anchor="middle" font-weight="normal" textLength="8.2" lengthAdjust="spacingAndGlyphs"  stroke="#5e5e5e" stroke-width="0.05">21.5</text>
<text x="492.85" y="379.5166666666667" transform="rotate(0.06 492.85 379.5166666666667)" style="font-family:'Liberation Mono',sans-serif" font-size="3.9" fill="#5e5e5e" text-anchor="middle" font-weight="normal" textLength="8.2" lengthAdjust="spacingAndGlyphs"  stroke="#5e5e5e" stroke-width="0.05">19.5</text>
<text x="324.7" y="385.33333333333337" transform="rotate(0.06 324.7 385.33333333333337)" style="font-family:'Liberation Mono',sans-serif" font-size="3.9" fill="#5e5e5e" text-anchor="middle" font-weight="normal" textLength="6.1499999999999995" lengthAdjust="spacingAndGlyphs"  stroke="#5e5e5e" stroke-width="0.05">108</text>
<text x="355.15" y="385.33333333333337" transform="rotate(0.06 355.15 385.33333333333337)" style="font-family:'Liberation Mono',sans-serif" font-size="3.9" fill="#5e5e5e" text-anchor="middle" font-weight="normal" textLength="4.1" lengthAdjust="spacingAndGlyphs"  stroke="#5e5e5e" stroke-width="0.05">10</text>
<text x="384.35" y="385.33333333333337" transform="rotate(0.06 384.35 385.33333333333337)" style="font-family:'Liberation Mono',sans-serif" font-size="3.9" fill="#5e5e5e" text-anchor="middle" font-weight="normal" textLength="2.05" lengthAdjust="spacingAndGlyphs"  stroke="#5e5e5e" stroke-width="0.05">5</text>
<text x="419.25" y="385.33333333333337" transform="rotate(0.06 419.25 385.33333333333337)" style="font-family:'Liberation Mono',sans-serif" font-size="3.9" fill="#5e5e5e" text-anchor="middle" font-weight="normal" textLength="30.749999999999996" lengthAdjust="spacingAndGlyphs"  stroke="#5e5e5e" stroke-width="0.05">EC-STR-45 &amp; 45A</text>
<text x="449.35" y="385.33333333333337" transform="rotate(0.06 449.35 385.33333333333337)" style="font-family:'Liberation Mono',sans-serif" font-size="3.9" fill="#5e5e5e" text-anchor="middle" font-weight="normal" textLength="6.1499999999999995" lengthAdjust="spacingAndGlyphs"  stroke="#5e5e5e" stroke-width="0.05">1.0</text>
<text x="470.85" y="385.33333333333337" transform="rotate(0.06 470.85 385.33333333333337)" style="font-family:'Liberation Mono',sans-serif" font-size="3.9" fill="#5e5e5e" text-anchor="middle" font-weight="normal" textLength="8.2" lengthAdjust="spacingAndGlyphs"  stroke="#5e5e5e" stroke-width="0.05">14.5</text>
<text x="492.85" y="385.33333333333337" transform="rotate(0.06 492.85 385.33333333333337)" style="font-family:'Liberation Mono',sans-serif" font-size="3.9" fill="#5e5e5e" text-anchor="middle" font-weight="normal" textLength="8.2" lengthAdjust="spacingAndGlyphs"  stroke="#5e5e5e" stroke-width="0.05">12.5</text>
<line x1="579.5" y1="354.5" x2="636.6" y2="354.5" stroke="#6a6a6a" stroke-width="0.5" />
<line x1="579.5" y1="354.5" x2="579.5" y2="405.1" stroke="#6a6a6a" stroke-width="0.5" />
<line x1="579.5" y1="369.4" x2="636.6" y2="369.4" stroke="#6a6a6a" stroke-width="0.5" />
<rect x="601.7" y="397.4" width="34.9" height="7.7" fill="none" stroke="#777" stroke-width="0.5" />
<text x="608" y="360.9" transform="rotate(0.06 608 360.9)" style="font-family:'Liberation Mono',sans-serif" font-size="3.4" fill="#222" text-anchor="middle" font-weight="bold" textLength="36" lengthAdjust="spacingAndGlyphs"  stroke="#222" stroke-width="0.05">STATE OF TENNESSEE</text>
<text x="608" y="365.8" transform="rotate(0.06 608 365.8)" style="font-family:'Liberation Mono',sans-serif" font-size="3.4" fill="#222" text-anchor="middle" font-weight="bold" textLength="54" lengthAdjust="spacingAndGlyphs"  stroke="#222" stroke-width="0.05">DEPARTMENT OF TRANSPORTATION</text>
<text x="608" y="376.8" transform="rotate(0.06 608 376.8)" style="font-family:'Liberation Mono',sans-serif" font-size="4.7" fill="#4c4c4c" text-anchor="middle" font-weight="normal" textLength="30" lengthAdjust="spacingAndGlyphs" >CATCH BASIN</text>
<text x="608" y="381.4" transform="rotate(0.06 608 381.4)" style="font-family:'Liberation Mono',sans-serif" font-size="4.7" fill="#4c4c4c" text-anchor="middle" font-weight="normal" textLength="42" lengthAdjust="spacingAndGlyphs" >FILTER ASSEMBLY</text>
<text x="608" y="386.2" transform="rotate(0.06 608 386.2)" style="font-family:'Liberation Mono',sans-serif" font-size="4.7" fill="#4c4c4c" text-anchor="middle" font-weight="normal" textLength="8.5" lengthAdjust="spacingAndGlyphs" >FOR</text>
<text x="608" y="391.0" transform="rotate(0.06 608 391.0)" style="font-family:'Liberation Mono',sans-serif" font-size="4.7" fill="#4c4c4c" text-anchor="middle" font-weight="normal" textLength="51" lengthAdjust="spacingAndGlyphs" >CIRCULAR STRUCTURES</text>
<text x="591.3" y="402.5" transform="rotate(0.06 591.3 402.5)" style="font-family:'Liberation Mono',sans-serif" font-size="3.4" fill="#333" text-anchor="middle" font-weight="normal" textLength="14.5" lengthAdjust="spacingAndGlyphs"  stroke="#333" stroke-width="0.05">4-15-04</text>
<text x="619.8" y="403.2" transform="rotate(0.06 619.8 403.2)" style="font-family:'Liberation Mono',sans-serif" font-size="6.3" fill="#6a6a6a" text-anchor="middle" font-weight="normal" textLength="29.6" lengthAdjust="spacingAndGlyphs" >EC-STR-40</text>
<rect x="139" y="68.8" width="118.80000000000001" height="123.60000000000001" fill="url(#grav)" stroke="#666" stroke-width="0.5"/>
<circle cx="198.4" cy="130.5" r="41.7" fill="#fff" stroke="#484848" stroke-width="0.75"/>
<circle cx="198.4" cy="130.5" r="34.3" fill="none" stroke="#666" stroke-width="0.55"/>
<rect x="155.4" y="81.0" width="85.6" height="3.2" fill="#fbfbfb" stroke="#999" stroke-width="0.25" />
<rect x="166" y="176" width="78.8" height="3.2" fill="#fbfbfb" stroke="#999" stroke-width="0.25" />
<line x1="158" y1="82.6" x2="162" y2="82.6" stroke="#bbb" stroke-width="0.4" />
<line x1="167" y1="82.6" x2="171" y2="82.6" stroke="#bbb" stroke-width="0.4" />
<line x1="176" y1="82.6" x2="180" y2="82.6" stroke="#bbb" stroke-width="0.4" />
<line x1="185" y1="82.6" x2="189" y2="82.6" stroke="#bbb" stroke-width="0.4" />
<line x1="194" y1="82.6" x2="198" y2="82.6" stroke="#bbb" stroke-width="0.4" />
<line x1="203" y1="82.6" x2="207" y2="82.6" stroke="#bbb" stroke-width="0.4" />
<line x1="212" y1="82.6" x2="216" y2="82.6" stroke="#bbb" stroke-width="0.4" />
<line x1="221" y1="82.6" x2="225" y2="82.6" stroke="#bbb" stroke-width="0.4" />
<line x1="230" y1="82.6" x2="234" y2="82.6" stroke="#bbb" stroke-width="0.4" />
<line x1="239" y1="82.6" x2="243" y2="82.6" stroke="#bbb" stroke-width="0.4" />
<line x1="170" y1="177.6" x2="174" y2="177.6" stroke="#bbb" stroke-width="0.4" />
<line x1="179" y1="177.6" x2="183" y2="177.6" stroke="#bbb" stroke-width="0.4" />
<line x1="188" y1="177.6" x2="192" y2="177.6" stroke="#bbb" stroke-width="0.4" />
<line x1="197" y1="177.6" x2="201" y2="177.6" stroke="#bbb" stroke-width="0.4" />
<line x1="206" y1="177.6" x2="210" y2="177.6" stroke="#bbb" stroke-width="0.4" />
<line x1="215" y1="177.6" x2="219" y2="177.6" stroke="#bbb" stroke-width="0.4" />
<line x1="224" y1="177.6" x2="228" y2="177.6" stroke="#bbb" stroke-width="0.4" />
<line x1="233" y1="177.6" x2="237" y2="177.6" stroke="#bbb" stroke-width="0.4" />
<rect x="151.0" y="81" width="2.0" height="98.2" fill="#fafafa" stroke="#777" stroke-width="0.35" />
<rect x="244.6" y="81" width="2.0" height="98.2" fill="#fafafa" stroke="#777" stroke-width="0.35" />
<rect x="152.2" y="98.3" width="93.4" height="2.0" fill="#f6f6f6" stroke="#8a8a8a" stroke-width="0.4" />
<rect x="152.2" y="116.5" width="93.4" height="2.0" fill="#f6f6f6" stroke="#8a8a8a" stroke-width="0.4" />
<rect x="152.2" y="142.7" width="93.4" height="2.0" fill="#f6f6f6" stroke="#8a8a8a" stroke-width="0.4" />
<rect x="152.2" y="161.6" width="93.4" height="2.0" fill="#f6f6f6" stroke="#8a8a8a" stroke-width="0.4" />
<rect x="197.6" y="84.3" width="2.1" height="14.0" fill="#f6f6f6" stroke="#8a8a8a" stroke-width="0.4" />
<rect x="199.4" y="100.3" width="2.1" height="16.200000000000003" fill="#f6f6f6" stroke="#8a8a8a" stroke-width="0.4" />
<rect x="197.5" y="118.5" width="2.1" height="24.19999999999999" fill="#f6f6f6" stroke="#8a8a8a" stroke-width="0.4" />
<rect x="199.3" y="144.7" width="2.1" height="16.900000000000006" fill="#f6f6f6" stroke="#8a8a8a" stroke-width="0.4" />
<rect x="197.2" y="163.6" width="2.1" height="12.400000000000006" fill="#f6f6f6" stroke="#8a8a8a" stroke-width="0.4" />
<circle cx="154.4" cy="85.8" r="1.5" fill="#7a7a7a" stroke="#444" stroke-width="0.45"/>
<circle cx="243.8" cy="85.8" r="1.5" fill="#7a7a7a" stroke="#444" stroke-width="0.45"/>
<circle cx="243.4" cy="174.8" r="1.5" fill="#7a7a7a" stroke="#444" stroke-width="0.45"/>
<path d="M172.8,108.6 L176.2,107.4 L178.4,113.6 L175,114.8 Z" fill="#a2a2a2" stroke="#666" stroke-width="0.4"/>
<path d="M174.6,123 L178,121.6 L180,122.6 L182.6,122 L183.4,126 L182,129.6 L178.6,130 L176,128.6 L174.8,126 Z" fill="#a2a2a2" stroke="#666" stroke-width="0.4"/>
<path d="M215.4,130 L219.2,128.6 L222,135.6 L218.2,137 Z" fill="#a2a2a2" stroke="#666" stroke-width="0.4"/>
<path d="M208.6,142.6 L213,141.6 L216.6,143 L218.4,147 L217,151.6 L212.6,153.6 L209,152 L207.6,147.6 Z" fill="#929292" stroke="#666" stroke-width="0.4"/>
<path d="M210.6,90.6 L213.6,89.6 L215.6,95.4 L212.6,96.4 Z" fill="#a2a2a2" stroke="#666" stroke-width="0.4"/>
<path d="M173,161.4 L176,159.8 L179,161.4 L179.4,165 L177,167.2 L173.8,166 Z" fill="#9a9a9a" stroke="#666" stroke-width="0.4"/>
<path d="M149,171 L153,169.4 L157,171 L160,174 L165,178 L166,181.4 L152,181.6 L149,178 Z" fill="#8e8e8e" stroke="#777" stroke-width="0.4"/>
<circle cx="250" cy="148.7" r="2.3" fill="#fafafa" stroke="#aaa" stroke-width="0.3"/>
<line x1="177.5" y1="70" x2="177.5" y2="87" stroke="#333" stroke-width="0.5" />
<path d="M177.5,69 L178.25,71.20 L176.75,71.20 Z" fill="#1a1a1a"/>
<path d="M177.5,88 L176.75,85.80 L178.25,85.80 Z" fill="#1a1a1a"/>
<line x1="186.6" y1="81" x2="186.6" y2="94" stroke="#333" stroke-width="0.5" />
<path d="M186.6,95 L185.85,92.80 L187.35,92.80 Z" fill="#1a1a1a"/>
<line x1="198.6" y1="80" x2="198.6" y2="88" stroke="#222" stroke-width="0.8" />
<line x1="198.6" y1="176" x2="198.6" y2="181" stroke="#222" stroke-width="0.8" />
<path d="M156.4,130.5 L154.00,131.00 L154.00,130.00 Z" fill="#1a1a1a"/>
<path d="M163.6,130.5 L166.00,130.00 L166.00,131.00 Z" fill="#1a1a1a"/>
<path d="M240.4,130.5 L242.80,130.00 L242.80,131.00 Z" fill="#1a1a1a"/>
<path d="M233.2,130.5 L230.80,131.00 L230.80,130.00 Z" fill="#1a1a1a"/>
<line x1="163.6" y1="130.5" x2="170" y2="130.5" stroke="#444" stroke-width="0.4" />
<line x1="226.8" y1="130.5" x2="233.2" y2="130.5" stroke="#444" stroke-width="0.4" />
<line x1="149" y1="130.5" x2="154" y2="130.5" stroke="#444" stroke-width="0.4" />
<line x1="243" y1="130.5" x2="248" y2="130.5" stroke="#444" stroke-width="0.4" />
<text x="166.6" y="131.4" transform="rotate(0.06 166.6 131.4)" style="font-family:'Liberation Mono',sans-serif" font-size="2.6" fill="#5e5e5e" text-anchor="start" font-weight="normal"  stroke="#5e5e5e" stroke-width="0.05">W</text>
<text x="229.4" y="131.4" transform="rotate(0.06 229.4 131.4)" style="font-family:'Liberation Mono',sans-serif" font-size="2.6" fill="#5e5e5e" text-anchor="start" font-weight="normal"  stroke="#5e5e5e" stroke-width="0.05">W</text>
<line x1="124.1" y1="99" x2="124.1" y2="107.2" stroke="#333" stroke-width="0.7" />
<line x1="124.1" y1="107.2" x2="133.1" y2="107.2" stroke="#333" stroke-width="0.7" />
<path d="M124.1,82.7 L126.6,100.6 L124.1,98.4 L121.6,100.6 Z" fill="#1a1a1a"/>
<text x="123.8" y="80.4" transform="rotate(0.06 123.8 80.4)" style="font-family:'Liberation Mono',sans-serif" font-size="6.6" fill="#444" text-anchor="middle" font-weight="normal" >A</text>
<line x1="275.6" y1="99" x2="275.6" y2="107.2" stroke="#333" stroke-width="0.7" />
<line x1="275.6" y1="107.2" x2="266.6" y2="107.2" stroke="#333" stroke-width="0.7" />
<path d="M275.6,82.7 L278.1,100.6 L275.6,98.4 L273.1,100.6 Z" fill="#1a1a1a"/>
<text x="275.3" y="80.4" transform="rotate(0.06 275.3 80.4)" style="font-family:'Liberation Mono',sans-serif" font-size="6.6" fill="#444" text-anchor="middle" font-weight="normal" >A</text>
<line x1="197.2" y1="64.6" x2="197.2" y2="56.7" stroke="#333" stroke-width="0.7" />
<line x1="197.2" y1="56.7" x2="203" y2="56.7" stroke="#333" stroke-width="0.7" />
<path d="M219.2,56.7 L201.6,54.2 L203.8,56.7 L201.6,59.2 Z" fill="#1a1a1a"/>
<text x="223" y="59.6" transform="rotate(0.06 223 59.6)" style="font-family:'Liberation Mono',sans-serif" font-size="7.4" fill="#444" text-anchor="middle" font-weight="normal" >B</text>
<line x1="197.1" y1="196.8" x2="197.1" y2="204" stroke="#333" stroke-width="0.7" />
<line x1="197.1" y1="204" x2="203" y2="204" stroke="#333" stroke-width="0.7" />
<path d="M219.2,204 L201.6,201.5 L203.8,204 L201.6,206.5 Z" fill="#1a1a1a"/>
<text x="223.1" y="207.6" transform="rotate(0.06 223.1 207.6)" style="font-family:'Liberation Mono',sans-serif" font-size="7.4" fill="#444" text-anchor="middle" font-weight="normal" >B</text>
<text transform="translate(179.1,52) rotate(-90)" style="font-family:'Liberation Mono',monospace" font-size="3.7" fill="#555" text-anchor="middle" textLength="12.0" lengthAdjust="spacingAndGlyphs">GUTTER</text>
<text transform="translate(179.1,209.7) rotate(-90)" style="font-family:'Liberation Mono',monospace" font-size="3.7" fill="#555" text-anchor="middle" textLength="12.0" lengthAdjust="spacingAndGlyphs">GUTTER</text>
<text transform="translate(182.8,52) rotate(-90)" style="font-family:'Liberation Mono',monospace" font-size="3.7" fill="#555" text-anchor="middle" textLength="16.0" lengthAdjust="spacingAndGlyphs">OR DITCH</text>
<text transform="translate(182.8,209.7) rotate(-90)" style="font-family:'Liberation Mono',monospace" font-size="3.7" fill="#555" text-anchor="middle" textLength="16.0" lengthAdjust="spacingAndGlyphs">OR DITCH</text>
<text transform="translate(186.6,52) rotate(-90)" style="font-family:'Liberation Mono',monospace" font-size="3.7" fill="#555" text-anchor="middle" textLength="8.0" lengthAdjust="spacingAndGlyphs">LINE</text>
<text transform="translate(186.6,209.7) rotate(-90)" style="font-family:'Liberation Mono',monospace" font-size="3.7" fill="#555" text-anchor="middle" textLength="8.0" lengthAdjust="spacingAndGlyphs">LINE</text>
<line x1="187.75" y1="44.6" x2="187.75" y2="61.4" stroke="#444" stroke-width="0.5" />
<path d="M187.75,63.5 L187.00,60.90 L188.50,60.90 Z" fill="#1a1a1a"/>
<line x1="187.75" y1="201.2" x2="187.75" y2="217.4" stroke="#444" stroke-width="0.5" />
<path d="M187.75,198.7 L188.50,201.30 L187.00,201.30 Z" fill="#1a1a1a"/>
<text x="112.6" y="124.5" transform="rotate(0.06 112.6 124.5)" style="font-family:'Liberation Mono',sans-serif" font-size="3.9" fill="#5e5e5e" text-anchor="start" font-weight="normal" textLength="15" lengthAdjust="spacingAndGlyphs"  stroke="#5e5e5e" stroke-width="0.05">2" X 4"</text>
<line x1="129" y1="122.9" x2="149" y2="122.9" stroke="#444" stroke-width="0.55" />
<path d="M151.4,122.9 L148.80,123.65 L148.80,122.15 Z" fill="#1a1a1a"/>
<text x="72.9" y="147.4" transform="rotate(0.06 72.9 147.4)" style="font-family:'Liberation Mono',sans-serif" font-size="3.9" fill="#5e5e5e" text-anchor="start" font-weight="normal" textLength="47.5" lengthAdjust="spacingAndGlyphs"  stroke="#5e5e5e" stroke-width="0.05">10" X 12" ANCHOR TRENCH</text>
<line x1="122" y1="146.3" x2="142" y2="146.3" stroke="#444" stroke-width="0.55" />
<path d="M144.4,146.3 L141.80,147.05 L141.80,145.55 Z" fill="#1a1a1a"/>
<text x="74" y="165.8" transform="rotate(0.06 74 165.8)" style="font-family:'Liberation Mono',sans-serif" font-size="3.9" fill="#5e5e5e" text-anchor="start" font-weight="normal" textLength="47.5" lengthAdjust="spacingAndGlyphs"  stroke="#5e5e5e" stroke-width="0.05">SLIPCOVER FILTER FABRIC</text>
<text x="74" y="169.4" transform="rotate(0.06 74 169.4)" style="font-family:'Liberation Mono',sans-serif" font-size="3.9" fill="#5e5e5e" text-anchor="start" font-weight="normal" textLength="39.3" lengthAdjust="spacingAndGlyphs"  stroke="#5e5e5e" stroke-width="0.05">OVER HARDWARE CLOTH</text>
<line x1="122.6" y1="164.6" x2="172" y2="164.6" stroke="#444" stroke-width="0.55" />
<path d="M174.4,164.6 L171.80,165.35 L171.80,163.85 Z" fill="#1a1a1a"/>
<text x="266.9" y="125" transform="rotate(0.06 266.9 125)" style="font-family:'Liberation Mono',sans-serif" font-size="3.9" fill="#5e5e5e" text-anchor="start" font-weight="normal" textLength="52.6" lengthAdjust="spacingAndGlyphs"  stroke="#5e5e5e" stroke-width="0.05">STANDARD PRECAST CIRCULAR</text>
<text x="266.9" y="128.9" transform="rotate(0.06 266.9 128.9)" style="font-family:'Liberation Mono',sans-serif" font-size="3.9" fill="#5e5e5e" text-anchor="start" font-weight="normal" textLength="41.4" lengthAdjust="spacingAndGlyphs"  stroke="#5e5e5e" stroke-width="0.05">CONCRETE CATCH BASIN</text>
<line x1="239" y1="123.9" x2="265" y2="123.9" stroke="#444" stroke-width="0.55" />
<path d="M236.6,123.9 L239.20,123.15 L239.20,124.65 Z" fill="#1a1a1a"/>
<text x="268.9" y="152.9" transform="rotate(0.06 268.9 152.9)" style="font-family:'Liberation Mono',sans-serif" font-size="3.9" fill="#5e5e5e" text-anchor="start" font-weight="normal" textLength="58" lengthAdjust="spacingAndGlyphs"  stroke="#5e5e5e" stroke-width="0.05">0.5" X 0.5" -19GA GALVANIZED</text>
<text x="268.9" y="156.6" transform="rotate(0.06 268.9 156.6)" style="font-family:'Liberation Mono',sans-serif" font-size="3.9" fill="#5e5e5e" text-anchor="start" font-weight="normal" textLength="64" lengthAdjust="spacingAndGlyphs"  stroke="#5e5e5e" stroke-width="0.05">HARDWARE CLOTH UNDER GEOTEXTILE</text>
<text x="268.9" y="160.4" transform="rotate(0.06 268.9 160.4)" style="font-family:'Liberation Mono',sans-serif" font-size="3.9" fill="#5e5e5e" text-anchor="start" font-weight="normal" textLength="33" lengthAdjust="spacingAndGlyphs"  stroke="#5e5e5e" stroke-width="0.05">SLIPCOVER FABRIC</text>
<line x1="221" y1="153" x2="267" y2="153" stroke="#444" stroke-width="0.55" />
<path d="M218.8,153 L221.40,152.25 L221.40,153.75 Z" fill="#1a1a1a"/>
<text x="266.7" y="181.9" transform="rotate(0.06 266.7 181.9)" style="font-family:'Liberation Mono',sans-serif" font-size="3.9" fill="#5e5e5e" text-anchor="start" font-weight="normal" textLength="35.5" lengthAdjust="spacingAndGlyphs"  stroke="#5e5e5e" stroke-width="0.05">MINERAL AGGREGATE</text>
<text x="266.7" y="186.1" transform="rotate(0.06 266.7 186.1)" style="font-family:'Liberation Mono',sans-serif" font-size="3.9" fill="#5e5e5e" text-anchor="start" font-weight="normal" textLength="18.8" lengthAdjust="spacingAndGlyphs"  stroke="#5e5e5e" stroke-width="0.05">(SIZE 57)</text>
<line x1="255.6" y1="180.7" x2="265.2" y2="180.7" stroke="#444" stroke-width="0.55" />
<path d="M253.2,180.7 L255.80,179.95 L255.80,181.45 Z" fill="#1a1a1a"/>
<text x="250.3" y="201.5" transform="rotate(0.06 250.3 201.5)" style="font-family:'Liberation Mono',sans-serif" font-size="3.9" fill="#5e5e5e" text-anchor="start" font-weight="normal" textLength="20.6" lengthAdjust="spacingAndGlyphs"  stroke="#5e5e5e" stroke-width="0.05">WOOD FRAME</text>
<path d="M237,192.3 L238.4,196 Q239.6,199.9 242.6,199.9 L247.6,199.9" fill="none" stroke="#777" stroke-width="0.5" />
<path d="M373,96 L392,96 L394,106 L422.2,108 L422.2,141.6 L415.6,141.6 L415,136 L413.4,130 L406.9,125.3 L395.6,123.4 L390,119.7 L391,113 L389,105.6 L387.2,99.4 L380,98.2 L373,97.2 Z" fill="url(#soil)" stroke="#999" stroke-width="0.25" />
<path d="M393.4,96.2 L413,96.2 L413,104.8 L422.2,105 L422.2,116.4 L396.6,116.4 L395,110 L394.4,105 Z" fill="url(#grav2)" stroke="none" stroke-width="0.6" />
<path d="M534,108.8 L541,108.8 L541,105.6 L560.2,105.6 L560.2,97 L566,97 L585,97 L586.4,98.2 L576,99.4 L568,100.6 L565.75,105.75 L565.75,117.6 L564,121.4 L560.3,125.6 L552,126.4 L542.8,126.4 L542.7,141.6 L534,141.6 Z" fill="url(#soil)" stroke="#999" stroke-width="0.25" />
<path d="M543.6,96.6 L560.4,96.6 L560.4,105 L543.6,105 Z" fill="url(#grav2)" stroke="none" stroke-width="0.6" />
<path d="M534,108.8 L541,108.8 L541,105.8 L565.6,105.8 L565.6,116.4 L534,116.4 Z" fill="url(#grav2)" stroke="none" stroke-width="0.6" opacity="0.7"/>
<rect x="421.5" y="97.3" width="30.5" height="11.4" fill="url(#conc)" stroke="#444" stroke-width="0.5" />
<rect x="504.8" y="97.3" width="36" height="11.4" fill="url(#conc)" stroke="#444" stroke-width="0.5" />
<rect x="422.3" y="108.7" width="9.3" height="33.2" fill="url(#conc)" stroke="#444" stroke-width="0.5" />
<rect x="525.8" y="108.7" width="8.2" height="33.2" fill="url(#conc)" stroke="#444" stroke-width="0.5" />
<path d="M419,141.9 L426,141.9 L427,145 L428,141.9 L435,141.9" fill="none" stroke="#444" stroke-width="0.55" />
<path d="M522,141.9 L529,141.9 L530,145 L531,141.9 L538,141.9" fill="none" stroke="#444" stroke-width="0.55" />
<line x1="373.8" y1="95.9" x2="391" y2="95.9" stroke="#555" stroke-width="0.5" />
<line x1="553" y1="96.6" x2="591.5" y2="96.6" stroke="#444" stroke-width="0.6" />
<line x1="431.6" y1="103.3" x2="525.8" y2="103.3" stroke="#444" stroke-width="0.55" stroke-dasharray="2.2,1"/>
<line x1="431.6" y1="105.7" x2="525.8" y2="105.7" stroke="#444" stroke-width="0.55" stroke-dasharray="2.2,1"/>
<line x1="452" y1="97.3" x2="504.8" y2="97.3" stroke="#777" stroke-width="0.4" />
<line x1="476.5" y1="66" x2="476.5" y2="103" stroke="#666" stroke-width="0.4" stroke-dasharray="1.6,0.9"/>
<line x1="479.6" y1="66" x2="479.6" y2="103" stroke="#666" stroke-width="0.4" stroke-dasharray="1.6,0.9"/>
<line x1="415.6" y1="64.2" x2="415.6" y2="105" stroke="#666" stroke-width="0.4" />
<line x1="540.9" y1="64.2" x2="540.9" y2="105" stroke="#666" stroke-width="0.4" />
<line x1="415.6" y1="65.4" x2="540.9" y2="65.4" stroke="#444" stroke-width="0.55" />
<line x1="421.4" y1="65.4" x2="421.4" y2="97.3" stroke="#444" stroke-width="0.55" />
<line x1="534.5" y1="65.4" x2="534.5" y2="97.3" stroke="#444" stroke-width="0.55" />
<line x1="418" y1="66" x2="418" y2="105" stroke="#aaa" stroke-width="0.35" />
<line x1="538" y1="66" x2="538" y2="105" stroke="#aaa" stroke-width="0.35" />
<path d="M441.4,86.4 V71.6 Q441.4,70.3 442.8,70.3 H514.4 Q516,70.3 516,71.8 V86.4" fill="none" stroke="#666" stroke-width="0.45" />
<path d="M450.2,80.8 V77.4 H506 V80.8 M448.4,80.8 H507.8 M448.4,80.8 V84.5 M507.8,80.8 V84.5 M443.4,84.5 H512.8 M447,84.5 L443.4,86 V87 M509,84.5 L512.8,86 V87 M438.8,87 H451.4 M505.2,87 H518.4 M438.8,87 V96.6 H451.4 V87 M518.4,87 V96.6 H505.2 V87 M445.4,91.6 V96.6 M438.8,91.6 H451.4 M505.2,91.6 H518.4 M511.6,91.6 V96.6" fill="none" stroke="#666" stroke-width="0.45" />
<path d="M425.4,75 L428,73 L432,73.6 L435.6,72.8 L436,77 L434.4,80 L434.6,83.4 L430,84.4 L427,82.6 L425,79 Z" fill="url(#blob)" stroke="#666" stroke-width="0.4" />
<path d="M487,63.8 L498.6,63.8 L499.6,67 L491.6,70.8 L489.4,68 Z" fill="url(#blob)" stroke="#444" stroke-width="0.5" />
<path d="M499.4,82.6 L503,80.8 L508,81.6 L511,84 L512.8,88 L511,92 L507,94.6 L502,94 L498.4,90 L497.6,86 Z" fill="url(#blob)" stroke="#666" stroke-width="0.4" />
<path d="M519.6,73.4 L524,72 L529,74.6 L531.4,79 L530.6,83 L527,84.6 L523,83.6 L518.6,80.6 L517.6,77 Z" fill="url(#blob)" stroke="#666" stroke-width="0.4" />
<path d="M413.3,104.2 V62.8 H543.3 V104.2" fill="none" stroke="#2e2e2e" stroke-width="1.15" />
<path d="M413.3,103 Q413.4,105.2 411,105.3 L400,105 Q396.6,104.4 394.6,99 L393.6,96.4" fill="none" stroke="#2a2a2a" stroke-width="0.6" />
<path d="M543.3,103 Q543.2,105.1 546,105.2 L556.6,105.2 Q560.6,104.8 562,101 Q563,97.4 566,96.7" fill="none" stroke="#2a2a2a" stroke-width="0.7" />
<line x1="414" y1="62.9" x2="543" y2="62.9" stroke="#fff" stroke-width="0.5" stroke-dasharray="0.5,3.6"/>
<path d="M413.3,62.8 L418.4,62.8 L413.3,68.4 Z M543.3,62.8 L538.2,62.8 L543.3,68.4 Z" fill="#222"/>
<text x="376.5" y="93.2" transform="rotate(0.06 376.5 93.2)" style="font-family:'Liberation Mono',sans-serif" font-size="3.9" fill="#5e5e5e" text-anchor="start" font-weight="normal" textLength="8.3" lengthAdjust="spacingAndGlyphs"  stroke="#5e5e5e" stroke-width="0.05">FLOW</text>
<line x1="375" y1="94" x2="387.6" y2="94" stroke="#444" stroke-width="0.5" />
<path d="M390,94 L387.40,94.75 L387.40,93.25 Z" fill="#1a1a1a"/>
<text x="572" y="93.4" transform="rotate(0.06 572 93.4)" style="font-family:'Liberation Mono',sans-serif" font-size="3.9" fill="#5e5e5e" text-anchor="start" font-weight="normal" textLength="8.3" lengthAdjust="spacingAndGlyphs"  stroke="#5e5e5e" stroke-width="0.05">FLOW</text>
<line x1="569.5" y1="93.9" x2="582.7" y2="93.9" stroke="#444" stroke-width="0.5" />
<path d="M567,93.9 L569.60,93.15 L569.60,94.65 Z" fill="#1a1a1a"/>
<text x="532.1" y="42.2" transform="rotate(0.06 532.1 42.2)" style="font-family:'Liberation Mono',sans-serif" font-size="3.9" fill="#5e5e5e" text-anchor="start" font-weight="normal" textLength="47.5" lengthAdjust="spacingAndGlyphs"  stroke="#5e5e5e" stroke-width="0.05">FILTER ASSEMBLY EXAMPLE</text>
<text x="532.1" y="45.9" transform="rotate(0.06 532.1 45.9)" style="font-family:'Liberation Mono',sans-serif" font-size="3.9" fill="#5e5e5e" text-anchor="start" font-weight="normal" textLength="45.5" lengthAdjust="spacingAndGlyphs"  stroke="#5e5e5e" stroke-width="0.05">SHOWING FUTURE CASTING</text>
<text x="532.1" y="49.6" transform="rotate(0.06 532.1 49.6)" style="font-family:'Liberation Mono',sans-serif" font-size="3.9" fill="#5e5e5e" text-anchor="start" font-weight="normal" textLength="18.6" lengthAdjust="spacingAndGlyphs"  stroke="#5e5e5e" stroke-width="0.05">PLACEMENT</text>
<path d="M531.4,40.9 L528.4,40.9 L513.3,68.4" fill="none" stroke="#444" stroke-width="0.55" />
<path d="M512.3,70.2 L512.89,67.55 L514.21,68.27 Z" fill="#1a1a1a"/>
<text x="572" y="73" transform="rotate(0.06 572 73)" style="font-family:'Liberation Mono',sans-serif" font-size="3.9" fill="#5e5e5e" text-anchor="start" font-weight="normal" textLength="47.5" lengthAdjust="spacingAndGlyphs"  stroke="#5e5e5e" stroke-width="0.05">10" X 12" ANCHOR TRENCH</text>
<text x="572" y="76.6" transform="rotate(0.06 572 76.6)" style="font-family:'Liberation Mono',sans-serif" font-size="3.9" fill="#5e5e5e" text-anchor="start" font-weight="normal" textLength="41.4" lengthAdjust="spacingAndGlyphs"  stroke="#5e5e5e" stroke-width="0.05">BACKFILL TRENCH WITH</text>
<text x="572" y="80.3" transform="rotate(0.06 572 80.3)" style="font-family:'Liberation Mono',sans-serif" font-size="3.9" fill="#5e5e5e" text-anchor="start" font-weight="normal" textLength="26.9" lengthAdjust="spacingAndGlyphs"  stroke="#5e5e5e" stroke-width="0.05">NO. 57 STONE.</text>
<path d="M571.2,71.6 L568.2,71.6 L554.2,95.4" fill="none" stroke="#444" stroke-width="0.55" />
<path d="M553,97.2 L553.83,94.62 L555.08,95.46 Z" fill="#1a1a1a"/>
<text x="352.1" y="117.2" transform="rotate(0.06 352.1 117.2)" style="font-family:'Liberation Mono',sans-serif" font-size="3.9" fill="#5e5e5e" text-anchor="start" font-weight="normal" textLength="33.8" lengthAdjust="spacingAndGlyphs"  stroke="#5e5e5e" stroke-width="0.05">ANCHOR GEOTEXTILE</text>
<text x="352.1" y="121.3" transform="rotate(0.06 352.1 121.3)" style="font-family:'Liberation Mono',sans-serif" font-size="3.9" fill="#5e5e5e" text-anchor="start" font-weight="normal" textLength="31.8" lengthAdjust="spacingAndGlyphs"  stroke="#5e5e5e" stroke-width="0.05">WITH MINIMUM 12"</text>
<text x="352.1" y="125.3" transform="rotate(0.06 352.1 125.3)" style="font-family:'Liberation Mono',sans-serif" font-size="3.9" fill="#5e5e5e" text-anchor="start" font-weight="normal" textLength="21.9" lengthAdjust="spacingAndGlyphs"  stroke="#5e5e5e" stroke-width="0.05">ANCHOR FLAP</text>
<path d="M386.8,115.6 L398.2,106.6" fill="none" stroke="#444" stroke-width="0.55" />
<path d="M399.6,105.5 L398.04,107.70 L397.11,106.53 Z" fill="#1a1a1a"/>
<text x="353.4" y="134.7" transform="rotate(0.06 353.4 134.7)" style="font-family:'Liberation Mono',sans-serif" font-size="3.9" fill="#5e5e5e" text-anchor="start" font-weight="normal" textLength="42.6" lengthAdjust="spacingAndGlyphs"  stroke="#5e5e5e" stroke-width="0.05">MINERAL AGGREGATE PAD</text>
<path d="M396.8,133.4 L399.4,133.4 L408,115.6" fill="none" stroke="#444" stroke-width="0.55" />
<path d="M408.8,114 L408.30,116.65 L406.96,115.98 Z" fill="#1a1a1a"/>
<text x="482.4" y="117.8" transform="rotate(0.06 482.4 117.8)" style="font-family:'Liberation Mono',sans-serif" font-size="3.9" fill="#5e5e5e" text-anchor="start" font-weight="normal" textLength="29" lengthAdjust="spacingAndGlyphs"  stroke="#5e5e5e" stroke-width="0.05">2" X 4" BEYOND</text>
<path d="M481.4,116.6 L472.2,107.4" fill="none" stroke="#444" stroke-width="0.55" />
<path d="M470.8,106 L473.14,107.29 L472.10,108.34 Z" fill="#1a1a1a"/>
<text x="478.6" y="129.3" transform="rotate(0.06 478.6 129.3)" style="font-family:'Liberation Mono',sans-serif" font-size="3.9" fill="#5e5e5e" text-anchor="middle" font-weight="normal" textLength="41.4" lengthAdjust="spacingAndGlyphs"  stroke="#5e5e5e" stroke-width="0.05">CIRCULAR CATCH BASIN</text>
<text x="478.4" y="133.9" transform="rotate(0.06 478.4 133.9)" style="font-family:'Liberation Mono',sans-serif" font-size="3.9" fill="#5e5e5e" text-anchor="middle" font-weight="normal" textLength="24.8" lengthAdjust="spacingAndGlyphs"  stroke="#5e5e5e" stroke-width="0.05">DIAMETER = D</text>
<line x1="433.6" y1="130.5" x2="524" y2="130.5" stroke="#444" stroke-width="0.55" />
<path d="M431.7,130.5 L434.30,129.75 L434.30,131.25 Z" fill="#1a1a1a"/>
<path d="M525.7,130.5 L523.10,131.25 L523.10,129.75 Z" fill="#1a1a1a"/>
<line x1="415" y1="124.9" x2="420" y2="124.9" stroke="#444" stroke-width="0.55" />
<path d="M422.2,124.9 L420.00,125.65 L420.00,124.15 Z" fill="#1a1a1a"/>
<line x1="434" y1="124.9" x2="438" y2="124.9" stroke="#444" stroke-width="0.55" />
<path d="M431.7,124.9 L433.90,124.15 L433.90,125.65 Z" fill="#1a1a1a"/>
<text x="439.2" y="126" transform="rotate(0.06 439.2 126)" style="font-family:'Liberation Mono',sans-serif" font-size="3" fill="#5e5e5e" text-anchor="start" font-weight="normal"  stroke="#5e5e5e" stroke-width="0.05">W</text>
<text x="518.6" y="125.1" transform="rotate(0.06 518.6 125.1)" style="font-family:'Liberation Mono',sans-serif" font-size="3" fill="#5e5e5e" text-anchor="start" font-weight="normal"  stroke="#5e5e5e" stroke-width="0.05">A</text>
<line x1="521.4" y1="123.9" x2="531.6" y2="123.9" stroke="#444" stroke-width="0.5" />
<path d="M533.9,123.9 L531.50,124.65 L531.50,123.15 Z" fill="#1a1a1a"/>
<path d="M540.2,123.9 L542.60,123.15 L542.60,124.65 Z" fill="#1a1a1a"/>
<line x1="542.6" y1="123.9" x2="546" y2="123.9" stroke="#444" stroke-width="0.5" />
<line x1="540.2" y1="105" x2="540.2" y2="126.4" stroke="#555" stroke-width="0.45" />
<line x1="536.6" y1="128.3" x2="544.4" y2="128.3" stroke="#444" stroke-width="0.5" />
<line x1="549.4" y1="128.3" x2="556.6" y2="128.3" stroke="#444" stroke-width="0.5" />
<text x="545.6" y="129.4" transform="rotate(0.06 545.6 129.4)" style="font-family:'Liberation Mono',sans-serif" font-size="3" fill="#5e5e5e" text-anchor="start" font-weight="normal"  stroke="#5e5e5e" stroke-width="0.05">C</text>
<path d="M534.2,128.3 L536.60,127.55 L536.60,129.05 Z" fill="#1a1a1a"/>
<path d="M558.8,128.3 L556.40,129.05 L556.40,127.55 Z" fill="#1a1a1a"/>
<line x1="558.8" y1="116.4" x2="558.8" y2="130.3" stroke="#444" stroke-width="0.5" />
<line x1="560.2" y1="105.75" x2="591.5" y2="105.75" stroke="#555" stroke-width="0.5" />
<line x1="565.75" y1="116.4" x2="586" y2="116.4" stroke="#555" stroke-width="0.5" />
<path d="M589.6,93.6 L589.6,89.4 L591.6,89.4" fill="none" stroke="#444" stroke-width="0.5" />
<path d="M589.6,96.4 L588.70,93.60 L590.50,93.60 Z" fill="#1a1a1a"/>
<path d="M589.6,105.9 L590.50,108.70 L588.70,108.70 Z" fill="#1a1a1a"/>
<line x1="589.6" y1="108.6" x2="589.6" y2="113.4" stroke="#444" stroke-width="0.5" />
<line x1="584" y1="100.4" x2="584" y2="103" stroke="#444" stroke-width="0.5" />
<path d="M584,105.6 L583.10,102.80 L584.90,102.80 Z" fill="#1a1a1a"/>
<path d="M584,116.6 L584.90,119.40 L583.10,119.40 Z" fill="#1a1a1a"/>
<path d="M584,119.2 L584,123.4 L586.4,124.6" fill="none" stroke="#444" stroke-width="0.5" />
<text x="592.8" y="91.6" transform="rotate(0.06 592.8 91.6)" style="font-family:'Liberation Mono',sans-serif" font-size="3.9" fill="#5e5e5e" text-anchor="start" font-weight="normal" textLength="7.6" lengthAdjust="spacingAndGlyphs"  stroke="#5e5e5e" stroke-width="0.05">6.5"</text>
<text x="587.2" y="125.6" transform="rotate(0.06 587.2 125.6)" style="font-family:'Liberation Mono',sans-serif" font-size="3.9" fill="#5e5e5e" text-anchor="start" font-weight="normal" textLength="7.6" lengthAdjust="spacingAndGlyphs"  stroke="#5e5e5e" stroke-width="0.05">6.5"</text>
<line x1="477.7" y1="144.6" x2="477.7" y2="149" stroke="#1a1a1a" stroke-width="1.1" />
<path d="M475.6,148.2 L479.8,148.2 L477.7,151.8 Z" fill="#1a1a1a"/>
<text x="477.8" y="159" transform="rotate(0.06 477.8 159)" style="font-family:'Liberation Mono',sans-serif" font-size="3.9" fill="#5e5e5e" text-anchor="middle" font-weight="normal" textLength="19.8" lengthAdjust="spacingAndGlyphs"  stroke="#5e5e5e" stroke-width="0.05">FILTERED</text>
<text x="477.7" y="163.2" transform="rotate(0.06 477.7 163.2)" style="font-family:'Liberation Mono',sans-serif" font-size="3.9" fill="#5e5e5e" text-anchor="middle" font-weight="normal" textLength="13.8" lengthAdjust="spacingAndGlyphs"  stroke="#5e5e5e" stroke-width="0.05">RUNOFF</text>
<text x="478.1" y="175.4" transform="rotate(0.06 478.1 175.4)" style="font-family:'Liberation Mono',sans-serif" font-size="7.6" fill="#444" text-anchor="middle" font-weight="normal" textLength="45.6" lengthAdjust="spacingAndGlyphs" >SECTION A-A</text>
<line x1="455.3" y1="176.4" x2="500.9" y2="176.4" stroke="#444" stroke-width="0.6" />
<text x="478" y="180.8" transform="rotate(0.06 478 180.8)" style="font-family:'Liberation Mono',sans-serif" font-size="3.9" fill="#5e5e5e" text-anchor="middle" font-weight="normal" textLength="14.4" lengthAdjust="spacingAndGlyphs"  stroke="#5e5e5e" stroke-width="0.05">N.T.S.</text>
<path d="M370.7,236.4 L393,236.4 L394,246 L423.4,248 L423.4,281.8 L417.4,281.8 L417.1,275.3 L414.6,266.5 L402.7,262.7 L390.8,260.8 L388.9,258.3 L392,253.9 L388.9,245.7 L383.8,242.6 L372.5,241.3 Z" fill="url(#soil)" stroke="#999" stroke-width="0.25" />
<path d="M393.4,236.6 L411.2,236.6 L411.2,245 L423.4,245.2 L423.4,256.4 L396.4,256.4 L394.8,250 L394.4,245 Z" fill="url(#grav2)" stroke="none" stroke-width="0.6" />
<path d="M535.8,250.1 L545,250.1 L545,245.6 L564.6,245.6 L564.6,237.6 L588.4,237.6 L588,241 L586,244 L570,244.2 L568.6,246.1 L568.9,257.6 L567.6,260.6 L565,263.3 L552,263.6 L542.8,263.6 L542.7,281.8 L535.8,281.8 Z" fill="url(#soil)" stroke="#999" stroke-width="0.25" />
<path d="M547.7,237.3 L564.8,237.3 L564.8,245.2 L547.7,245.2 Z" fill="url(#grav2)" stroke="none" stroke-width="0.6" />
<path d="M535.8,250.1 L545,250.1 L545,246 L568.6,246 L568.6,256.4 L535.8,256.4 Z" fill="url(#grav2)" stroke="none" stroke-width="0.6" opacity="0.7"/>
<rect x="423.4" y="237.5" width="41.1" height="12.6" fill="url(#conc)" stroke="#444" stroke-width="0.5" />
<rect x="495.3" y="237.3" width="41.7" height="12.8" fill="url(#conc)" stroke="#444" stroke-width="0.5" />
<rect x="424" y="250.1" width="8.1" height="31.9" fill="url(#conc)" stroke="#444" stroke-width="0.5" />
<rect x="527" y="250.1" width="8.8" height="31.9" fill="url(#conc)" stroke="#444" stroke-width="0.5" />
<path d="M420,282 L427,282 L428,285.2 L429,282 L436,282" fill="none" stroke="#444" stroke-width="0.55" />
<path d="M523.4,282 L530.4,282 L531.4,285.2 L532.4,282 L539.4,282" fill="none" stroke="#444" stroke-width="0.55" />
<line x1="370.7" y1="236.1" x2="393.6" y2="236.1" stroke="#555" stroke-width="0.5" />
<line x1="558.8" y1="237.3" x2="595.4" y2="237.3" stroke="#444" stroke-width="0.6" />
<line x1="463.4" y1="237.8" x2="495.4" y2="237.8" stroke="#444" stroke-width="0.55" stroke-dasharray="3,1.2"/>
<line x1="413.6" y1="204.4" x2="545.6" y2="204.4" stroke="#444" stroke-width="0.55" />
<line x1="417.2" y1="204.4" x2="417.2" y2="245.2" stroke="#666" stroke-width="0.4" />
<line x1="420.3" y1="204.4" x2="420.3" y2="245.2" stroke="#777" stroke-width="0.4" />
<line x1="422.1" y1="204.4" x2="422.1" y2="237.2" stroke="#444" stroke-width="0.55" />
<line x1="537" y1="204.4" x2="537" y2="237.2" stroke="#444" stroke-width="0.55" />
<line x1="540.2" y1="204.4" x2="540.2" y2="246" stroke="#888" stroke-width="0.4" />
<line x1="542.1" y1="204.4" x2="542.1" y2="246" stroke="#666" stroke-width="0.4" />
<line x1="417.5" y1="245.2" x2="423.4" y2="245.2" stroke="#666" stroke-width="0.4" />
<line x1="537" y1="246" x2="542.1" y2="246" stroke="#666" stroke-width="0.4" />
<line x1="422.1" y1="209.8" x2="537" y2="209.8" stroke="#444" stroke-width="0.55" />
<line x1="422.1" y1="212" x2="537" y2="212" stroke="#444" stroke-width="0.55" />
<path d="M439.6,204.6 L441.6,209.6 M441.6,204.6 L439.6,209.6 M439.6,204.6 V209.6 M441.6,204.6 V209.6" fill="none" stroke="#333" stroke-width="0.45" />
<path d="M466.2,204.6 L468.2,209.6 M468.2,204.6 L466.2,209.6 M466.2,204.6 V209.6 M468.2,204.6 V209.6" fill="none" stroke="#333" stroke-width="0.45" />
<path d="M493.3,204.6 L495.3,209.6 M495.3,204.6 L493.3,209.6 M493.3,204.6 V209.6 M495.3,204.6 V209.6" fill="none" stroke="#333" stroke-width="0.45" />
<path d="M520.6,204.6 L522.6,209.6 M522.6,204.6 L520.6,209.6 M520.6,204.6 V209.6 M522.6,204.6 V209.6" fill="none" stroke="#333" stroke-width="0.45" />
<path d="M451.3,237.2 V227.4 H463.9 V237.2 M457.6,227.4 V232.7 M451.3,232.7 H463.9 M463.9,227.4 L466,221.4 L495.3,225.4 M460.4,225.6 L462.6,221 L495.3,224 M462,227.2 L495.3,227.6 M495.3,237.2 V214.6 H505.4 V226 L506.6,227.6 V237.2 M495.3,231.4 H506.6 M500.6,231.4 V237.2" fill="none" stroke="#444" stroke-width="0.55" />
<path d="M485.2,221.6 Q485,215.4 491,214 Q496.4,213.6 497.2,218.4 L496.8,222.4 Z" fill="url(#blob)" stroke="#444" stroke-width="0.45" />
<path d="M430.2,227.4 L438.6,223.8 L445.6,228.2 L441,232.6 L431.4,232.6 Z" fill="#8a8a8a" stroke="#666" stroke-width="0.4" />
<path d="M518.4,224 L521,222.4 L526,223.6 L530.2,226.6 L530.4,230 L527,231.4 L521.6,230.6 L517.4,227.6 Z" fill="url(#blob)" stroke="#555" stroke-width="0.4" />
<path d="M411.5,244.4 V203.4 H547.3 V244.4" fill="none" stroke="#2e2e2e" stroke-width="1.15" />
<path d="M411.5,243 Q411.4,245.2 409,245.3 L398.6,245 Q395,244.4 393.6,239.6 L392.8,237" fill="none" stroke="#2a2a2a" stroke-width="0.6" />
<path d="M547.3,243.4 Q547.2,245.5 550,245.6 L560.6,245.6 Q564.4,245.2 565.4,241.6 Q566,238.4 568.6,237.4" fill="none" stroke="#2a2a2a" stroke-width="0.7" />
<line x1="412" y1="203.5" x2="547" y2="203.5" stroke="#fff" stroke-width="0.5" stroke-dasharray="0.5,3.6"/>
<path d="M411.5,203.4 L416.8,203.4 L411.5,209 Z M547.3,203.4 L542.2,203.4 L547.3,209 Z" fill="#222"/>
<text x="379.4" y="234.7" transform="rotate(0.06 379.4 234.7)" style="font-family:'Liberation Mono',sans-serif" font-size="3.9" fill="#5e5e5e" text-anchor="start" font-weight="normal" textLength="8.6" lengthAdjust="spacingAndGlyphs"  stroke="#5e5e5e" stroke-width="0.05">FLOW</text>
<line x1="377.4" y1="235" x2="390.2" y2="235" stroke="#444" stroke-width="0.5" />
<path d="M392.6,235 L390.00,235.75 L390.00,234.25 Z" fill="#1a1a1a"/>
<text x="575.2" y="233.9" transform="rotate(0.06 575.2 233.9)" style="font-family:'Liberation Mono',sans-serif" font-size="3.9" fill="#5e5e5e" text-anchor="start" font-weight="normal" textLength="8.2" lengthAdjust="spacingAndGlyphs"  stroke="#5e5e5e" stroke-width="0.05">FLOW</text>
<line x1="571.6" y1="234.8" x2="585.2" y2="234.8" stroke="#444" stroke-width="0.5" />
<path d="M569.4,234.8 L572.00,234.05 L572.00,235.55 Z" fill="#1a1a1a"/>
<text x="524.1" y="186" transform="rotate(0.06 524.1 186)" style="font-family:'Liberation Mono',sans-serif" font-size="3.9" fill="#5e5e5e" text-anchor="start" font-weight="normal" textLength="47.5" lengthAdjust="spacingAndGlyphs"  stroke="#5e5e5e" stroke-width="0.05">FILTER ASSEMBLY EXAMPLE</text>
<text x="524.1" y="189.8" transform="rotate(0.06 524.1 189.8)" style="font-family:'Liberation Mono',sans-serif" font-size="3.9" fill="#5e5e5e" text-anchor="start" font-weight="normal" textLength="45.5" lengthAdjust="spacingAndGlyphs"  stroke="#5e5e5e" stroke-width="0.05">SHOWING FUTURE CASTING</text>
<text x="524.1" y="193.5" transform="rotate(0.06 524.1 193.5)" style="font-family:'Liberation Mono',sans-serif" font-size="3.9" fill="#5e5e5e" text-anchor="start" font-weight="normal" textLength="18.6" lengthAdjust="spacingAndGlyphs"  stroke="#5e5e5e" stroke-width="0.05">PLACEMENT</text>
<path d="M523.5,184.8 L520.9,184.8 L505.4,211.8" fill="none" stroke="#444" stroke-width="0.55" />
<path d="M504.4,213.5 L505.05,210.86 L506.35,211.61 Z" fill="#1a1a1a"/>
<text x="577.9" y="212.3" transform="rotate(0.06 577.9 212.3)" style="font-family:'Liberation Mono',sans-serif" font-size="3.9" fill="#5e5e5e" text-anchor="start" font-weight="normal" textLength="47.5" lengthAdjust="spacingAndGlyphs"  stroke="#5e5e5e" stroke-width="0.05">10" X 12" ANCHOR TRENCH</text>
<text x="577.9" y="215.9" transform="rotate(0.06 577.9 215.9)" style="font-family:'Liberation Mono',sans-serif" font-size="3.9" fill="#5e5e5e" text-anchor="start" font-weight="normal" textLength="41.4" lengthAdjust="spacingAndGlyphs"  stroke="#5e5e5e" stroke-width="0.05">BACKFILL TRENCH WITH</text>
<text x="577.9" y="219.6" transform="rotate(0.06 577.9 219.6)" style="font-family:'Liberation Mono',sans-serif" font-size="3.9" fill="#5e5e5e" text-anchor="start" font-weight="normal" textLength="26.9" lengthAdjust="spacingAndGlyphs"  stroke="#5e5e5e" stroke-width="0.05">NO. 57 STONE.</text>
<path d="M577,211 L573.4,211 L562.8,234" fill="none" stroke="#444" stroke-width="0.55" />
<path d="M562,235.8 L562.41,233.12 L563.77,233.75 Z" fill="#1a1a1a"/>
<text x="427.4" y="217.7" transform="rotate(0.06 427.4 217.7)" style="font-family:'Liberation Mono',sans-serif" font-size="3.9" fill="#5e5e5e" text-anchor="start" font-weight="normal" textLength="22.8" lengthAdjust="spacingAndGlyphs"  stroke="#5e5e5e" stroke-width="0.05">TWO 2" X 4"</text>
<text x="428.4" y="221.6" transform="rotate(0.06 428.4 221.6)" style="font-family:'Liberation Mono',sans-serif" font-size="3.9" fill="#5e5e5e" text-anchor="start" font-weight="normal" textLength="22.8" lengthAdjust="spacingAndGlyphs"  stroke="#5e5e5e" stroke-width="0.05">STOP BLOCKS</text>
<line x1="425.8" y1="216.4" x2="427" y2="216.4" stroke="#444" stroke-width="0.55" />
<path d="M423.6,216.4 L425.80,215.65 L425.80,217.15 Z" fill="#1a1a1a"/>
<text x="349.7" y="257.8" transform="rotate(0.06 349.7 257.8)" style="font-family:'Liberation Mono',sans-serif" font-size="3.9" fill="#5e5e5e" text-anchor="start" font-weight="normal" textLength="33.8" lengthAdjust="spacingAndGlyphs"  stroke="#5e5e5e" stroke-width="0.05">ANCHOR GEOTEXTILE</text>
<text x="349.7" y="261.7" transform="rotate(0.06 349.7 261.7)" style="font-family:'Liberation Mono',sans-serif" font-size="3.9" fill="#5e5e5e" text-anchor="start" font-weight="normal" textLength="31.8" lengthAdjust="spacingAndGlyphs"  stroke="#5e5e5e" stroke-width="0.05">WITH MINIMUM 12"</text>
<text x="349.7" y="265.7" transform="rotate(0.06 349.7 265.7)" style="font-family:'Liberation Mono',sans-serif" font-size="3.9" fill="#5e5e5e" text-anchor="start" font-weight="normal" textLength="21.9" lengthAdjust="spacingAndGlyphs"  stroke="#5e5e5e" stroke-width="0.05">ANCHOR FLAP</text>
<path d="M385,257 L395.6,247.8" fill="none" stroke="#444" stroke-width="0.55" />
<path d="M397,246.6 L395.51,248.86 L394.54,247.72 Z" fill="#1a1a1a"/>
<text x="351.6" y="274.7" transform="rotate(0.06 351.6 274.7)" style="font-family:'Liberation Mono',sans-serif" font-size="3.9" fill="#5e5e5e" text-anchor="start" font-weight="normal" textLength="42.5" lengthAdjust="spacingAndGlyphs"  stroke="#5e5e5e" stroke-width="0.05">MINERAL AGGREGATE PAD</text>
<path d="M394.6,272.8 L396.6,272.8 L405.6,256.9" fill="none" stroke="#444" stroke-width="0.55" />
<path d="M406.5,255.2 L405.88,257.83 L404.57,257.09 Z" fill="#1a1a1a"/>
<text x="485.3" y="258.3" transform="rotate(0.06 485.3 258.3)" style="font-family:'Liberation Mono',sans-serif" font-size="3.9" fill="#5e5e5e" text-anchor="start" font-weight="normal" textLength="29" lengthAdjust="spacingAndGlyphs"  stroke="#5e5e5e" stroke-width="0.05">2" X 4" BEYOND</text>
<path d="M484.4,256.8 L482.1,256.8 L473.4,247.8" fill="none" stroke="#444" stroke-width="0.55" />
<path d="M472.1,246.5 L474.45,247.82 L473.39,248.87 Z" fill="#1a1a1a"/>
<text x="480" y="272.1" transform="rotate(0.06 480 272.1)" style="font-family:'Liberation Mono',sans-serif" font-size="3.9" fill="#5e5e5e" text-anchor="middle" font-weight="normal" textLength="42" lengthAdjust="spacingAndGlyphs"  stroke="#5e5e5e" stroke-width="0.05">CIRCULAR CATCH BASIN</text>
<text x="479.6" y="277.1" transform="rotate(0.06 479.6 277.1)" style="font-family:'Liberation Mono',sans-serif" font-size="3.9" fill="#5e5e5e" text-anchor="middle" font-weight="normal" textLength="25.2" lengthAdjust="spacingAndGlyphs"  stroke="#5e5e5e" stroke-width="0.05">DIAMETER = D</text>
<line x1="433.6" y1="273.1" x2="525" y2="273.1" stroke="#444" stroke-width="0.55" />
<path d="M432.1,273.1 L434.70,272.35 L434.70,273.85 Z" fill="#1a1a1a"/>
<path d="M526.9,273.1 L524.30,273.85 L524.30,272.35 Z" fill="#1a1a1a"/>
<line x1="417" y1="267.9" x2="421.6" y2="267.9" stroke="#444" stroke-width="0.55" />
<path d="M424,267.9 L421.80,268.65 L421.80,267.15 Z" fill="#1a1a1a"/>
<line x1="434" y1="267.9" x2="438.6" y2="267.9" stroke="#444" stroke-width="0.55" />
<path d="M432.1,267.9 L434.30,267.15 L434.30,268.65 Z" fill="#1a1a1a"/>
<text x="439.8" y="269" transform="rotate(0.06 439.8 269)" style="font-family:'Liberation Mono',sans-serif" font-size="3" fill="#5e5e5e" text-anchor="start" font-weight="normal"  stroke="#5e5e5e" stroke-width="0.05">W</text>
<text x="520.4" y="268.2" transform="rotate(0.06 520.4 268.2)" style="font-family:'Liberation Mono',sans-serif" font-size="3" fill="#5e5e5e" text-anchor="start" font-weight="normal"  stroke="#5e5e5e" stroke-width="0.05">A</text>
<line x1="523.4" y1="267" x2="533.4" y2="267" stroke="#444" stroke-width="0.5" />
<path d="M535.8,267 L533.40,267.75 L533.40,266.25 Z" fill="#1a1a1a"/>
<path d="M541.5,267 L543.90,266.25 L543.90,267.75 Z" fill="#1a1a1a"/>
<line x1="543.9" y1="267" x2="547.4" y2="267" stroke="#444" stroke-width="0.5" />
<line x1="541.5" y1="246" x2="541.5" y2="270.5" stroke="#555" stroke-width="0.45" />
<line x1="538.4" y1="271.4" x2="547.6" y2="271.4" stroke="#444" stroke-width="0.5" />
<line x1="552.4" y1="271.4" x2="561" y2="271.4" stroke="#444" stroke-width="0.5" />
<text x="548.6" y="272.5" transform="rotate(0.06 548.6 272.5)" style="font-family:'Liberation Mono',sans-serif" font-size="3" fill="#5e5e5e" text-anchor="start" font-weight="normal"  stroke="#5e5e5e" stroke-width="0.05">B</text>
<path d="M536,271.4 L538.40,270.65 L538.40,272.15 Z" fill="#1a1a1a"/>
<path d="M563.4,271.4 L561.00,272.15 L561.00,270.65 Z" fill="#1a1a1a"/>
<line x1="563.6" y1="256.4" x2="563.6" y2="273.2" stroke="#444" stroke-width="0.5" />
<line x1="550" y1="223.8" x2="553.6" y2="223.8" stroke="#444" stroke-width="0.5" />
<line x1="559.6" y1="223.8" x2="564" y2="223.8" stroke="#444" stroke-width="0.5" />
<text x="554.2" y="225" transform="rotate(0.06 554.2 225)" style="font-family:'Liberation Mono',sans-serif" font-size="3.9" fill="#5e5e5e" text-anchor="start" font-weight="normal" textLength="5" lengthAdjust="spacingAndGlyphs"  stroke="#5e5e5e" stroke-width="0.05">10"</text>
<path d="M548.2,223.8 L550.40,223.05 L550.40,224.55 Z" fill="#1a1a1a"/>
<path d="M566.2,223.8 L564.00,224.55 L564.00,223.05 Z" fill="#1a1a1a"/>
<line x1="566.4" y1="219.6" x2="566.4" y2="237" stroke="#555" stroke-width="0.45" />
<line x1="565" y1="246.1" x2="595.4" y2="246.1" stroke="#555" stroke-width="0.5" />
<line x1="568.9" y1="256.4" x2="591" y2="256.4" stroke="#555" stroke-width="0.5" />
<path d="M594,234.4 L594,229.4 L596,229.4" fill="none" stroke="#444" stroke-width="0.5" />
<path d="M594,237.1 L593.10,234.30 L594.90,234.30 Z" fill="#1a1a1a"/>
<path d="M594,246.3 L594.90,249.10 L593.10,249.10 Z" fill="#1a1a1a"/>
<line x1="594" y1="249" x2="594" y2="253.4" stroke="#444" stroke-width="0.5" />
<line x1="588.7" y1="238.8" x2="588.7" y2="243.4" stroke="#444" stroke-width="0.5" />
<path d="M588.7,246 L587.80,243.20 L589.60,243.20 Z" fill="#1a1a1a"/>
<path d="M588.7,256.6 L589.60,259.40 L587.80,259.40 Z" fill="#1a1a1a"/>
<path d="M588.7,259.2 L588.7,263.3 L591,264.4" fill="none" stroke="#444" stroke-width="0.5" />
<text x="596.6" y="230.7" transform="rotate(0.06 596.6 230.7)" style="font-family:'Liberation Mono',sans-serif" font-size="3.9" fill="#5e5e5e" text-anchor="start" font-weight="normal" textLength="7.8" lengthAdjust="spacingAndGlyphs"  stroke="#5e5e5e" stroke-width="0.05">6.5"</text>
<text x="591.8" y="265.4" transform="rotate(0.06 591.8 265.4)" style="font-family:'Liberation Mono',sans-serif" font-size="3.9" fill="#5e5e5e" text-anchor="start" font-weight="normal" textLength="7.6" lengthAdjust="spacingAndGlyphs"  stroke="#5e5e5e" stroke-width="0.05">6.5"</text>
<line x1="479.6" y1="283.4" x2="479.6" y2="287.6" stroke="#1a1a1a" stroke-width="1.1" />
<path d="M477.5,286.8 L481.7,286.8 L479.6,290.4 Z" fill="#1a1a1a"/>
<text x="479.1" y="295.6" transform="rotate(0.06 479.1 295.6)" style="font-family:'Liberation Mono',sans-serif" font-size="3.9" fill="#5e5e5e" text-anchor="middle" font-weight="normal" textLength="19.8" lengthAdjust="spacingAndGlyphs"  stroke="#5e5e5e" stroke-width="0.05">FILTERED</text>
<text x="479" y="300" transform="rotate(0.06 479 300)" style="font-family:'Liberation Mono',sans-serif" font-size="3.9" fill="#5e5e5e" text-anchor="middle" font-weight="normal" textLength="13.8" lengthAdjust="spacingAndGlyphs"  stroke="#5e5e5e" stroke-width="0.05">RUNOFF</text>
<text x="479.7" y="310.9" transform="rotate(0.06 479.7 310.9)" style="font-family:'Liberation Mono',sans-serif" font-size="7.6" fill="#444" text-anchor="middle" font-weight="normal" textLength="45.4" lengthAdjust="spacingAndGlyphs" >SECTION B-B</text>
<line x1="457" y1="312" x2="502.4" y2="312" stroke="#444" stroke-width="0.6" />
<text x="479.4" y="316.6" transform="rotate(0.06 479.4 316.6)" style="font-family:'Liberation Mono',sans-serif" font-size="3.9" fill="#5e5e5e" text-anchor="middle" font-weight="normal" textLength="14.4" lengthAdjust="spacingAndGlyphs"  stroke="#5e5e5e" stroke-width="0.05">N.T.S.</text>
</svg>
</body></html>
